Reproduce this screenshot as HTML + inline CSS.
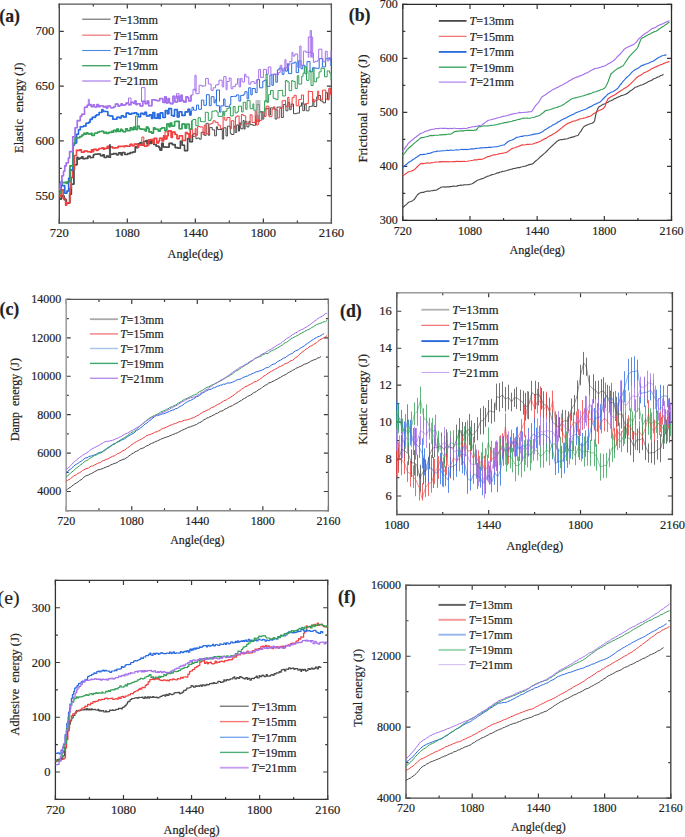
<!DOCTYPE html>
<html><head><meta charset="utf-8"><style>
html,body{margin:0;padding:0;background:#fff;overflow:hidden;}
svg{display:block;font-family:"Liberation Serif", serif;}
text{stroke:#222;stroke-width:0.18px;}
</style></head><body>
<svg width="685" height="837" viewBox="0 0 685 837" fill="#222">
<path d="M59.30 223.00v-4.5M59.30 4.10v4.5M127.32 223.00v-4.5M127.32 4.10v4.5M195.35 223.00v-4.5M195.35 4.10v4.5M263.38 223.00v-4.5M263.38 4.10v4.5M331.40 223.00v-4.5M331.40 4.10v4.5M93.31 223.00v-2.5M93.31 4.10v2.5M161.34 223.00v-2.5M161.34 4.10v2.5M229.36 223.00v-2.5M229.36 4.10v2.5M297.39 223.00v-2.5M297.39 4.10v2.5M59.30 195.64h4.5M331.40 195.64h-4.5M59.30 140.91h4.5M331.40 140.91h-4.5M59.30 86.19h4.5M331.40 86.19h-4.5M59.30 31.46h4.5M331.40 31.46h-4.5M59.30 168.28h2.5M331.40 168.28h-2.5M59.30 113.55h2.5M331.40 113.55h-2.5M59.30 58.82h2.5M331.40 58.82h-2.5" stroke="#3a3a3a" stroke-width="1.2" fill="none"/>
<path d="M58.60 4.10H332.05" stroke="#555" stroke-width="1.3"/>
<path d="M58.60 223.00H332.05" stroke="#666" stroke-width="1.4"/>
<path d="M59.30 3.45V223.70" stroke="#4a4a4a" stroke-width="1.4"/>
<path d="M331.40 3.45V223.70" stroke="#555" stroke-width="1.3"/>
<text x="59.30" y="237.20" text-anchor="middle" font-size="12.6">720</text>
<text x="127.32" y="237.20" text-anchor="middle" font-size="12.6">1080</text>
<text x="195.35" y="237.20" text-anchor="middle" font-size="12.6">1440</text>
<text x="263.38" y="237.20" text-anchor="middle" font-size="12.6">1800</text>
<text x="331.40" y="237.20" text-anchor="middle" font-size="12.6">2160</text>
<text x="54.30" y="199.64" text-anchor="end" font-size="12.6">550</text>
<text x="54.30" y="144.91" text-anchor="end" font-size="12.6">600</text>
<text x="54.30" y="90.19" text-anchor="end" font-size="12.6">650</text>
<text x="54.30" y="35.46" text-anchor="end" font-size="12.6">700</text>
<text x="195.35" y="257.80" text-anchor="middle" font-size="12.2">Angle(deg)</text>
<text transform="translate(23.30 107.70) rotate(-90)" text-anchor="middle" font-size="12.5" xml:space="preserve">Elastic  energy (J)</text>
<text x="-0.70" y="21.70" font-size="17.8" font-weight="bold">(a)</text>
<path d="M402.80 220.40v-4.5M402.80 4.40v4.5M469.98 220.40v-4.5M469.98 4.40v4.5M537.15 220.40v-4.5M537.15 4.40v4.5M604.33 220.40v-4.5M604.33 4.40v4.5M671.50 220.40v-4.5M671.50 4.40v4.5M436.39 220.40v-2.5M436.39 4.40v2.5M503.56 220.40v-2.5M503.56 4.40v2.5M570.74 220.40v-2.5M570.74 4.40v2.5M637.91 220.40v-2.5M637.91 4.40v2.5M402.80 220.40h4.5M671.50 220.40h-4.5M402.80 166.40h4.5M671.50 166.40h-4.5M402.80 112.40h4.5M671.50 112.40h-4.5M402.80 58.40h4.5M671.50 58.40h-4.5M402.80 4.40h4.5M671.50 4.40h-4.5M402.80 193.40h2.5M671.50 193.40h-2.5M402.80 139.40h2.5M671.50 139.40h-2.5M402.80 85.40h2.5M671.50 85.40h-2.5M402.80 31.40h2.5M671.50 31.40h-2.5" stroke="#3a3a3a" stroke-width="1.2" fill="none"/>
<path d="M402.15 4.40H672.15" stroke="#2a2a2a" stroke-width="1.2"/>
<path d="M402.15 220.40H672.15" stroke="#2a2a2a" stroke-width="1.3"/>
<path d="M402.80 3.80V221.05" stroke="#333" stroke-width="1.3"/>
<path d="M671.50 3.80V221.05" stroke="#2a2a2a" stroke-width="1.3"/>
<text x="402.80" y="234.60" text-anchor="middle" font-size="12.0">720</text>
<text x="469.98" y="234.60" text-anchor="middle" font-size="12.0">1080</text>
<text x="537.15" y="234.60" text-anchor="middle" font-size="12.0">1440</text>
<text x="604.33" y="234.60" text-anchor="middle" font-size="12.0">1800</text>
<text x="671.50" y="234.60" text-anchor="middle" font-size="12.0">2160</text>
<text x="397.80" y="224.40" text-anchor="end" font-size="12.0">300</text>
<text x="397.80" y="170.40" text-anchor="end" font-size="12.0">400</text>
<text x="397.80" y="116.40" text-anchor="end" font-size="12.0">500</text>
<text x="397.80" y="62.40" text-anchor="end" font-size="12.0">600</text>
<text x="397.80" y="8.40" text-anchor="end" font-size="12.0">700</text>
<text x="537.15" y="254.20" text-anchor="middle" font-size="12.2">Angle(deg)</text>
<text transform="translate(366.80 108.50) rotate(-90)" text-anchor="middle" font-size="12.9" xml:space="preserve">Frictional  energy (J)</text>
<text x="348.80" y="21.20" font-size="17.8" font-weight="bold">(b)</text>
<path d="M66.20 510.70v-4.5M66.20 299.40v4.5M131.75 510.70v-4.5M131.75 299.40v4.5M197.30 510.70v-4.5M197.30 299.40v4.5M262.85 510.70v-4.5M262.85 299.40v4.5M328.40 510.70v-4.5M328.40 299.40v4.5M98.97 510.70v-2.5M98.97 299.40v2.5M164.52 510.70v-2.5M164.52 299.40v2.5M230.07 510.70v-2.5M230.07 299.40v2.5M295.62 510.70v-2.5M295.62 299.40v2.5M66.20 491.49h4.5M328.40 491.49h-4.5M66.20 453.07h4.5M328.40 453.07h-4.5M66.20 414.65h4.5M328.40 414.65h-4.5M66.20 376.24h4.5M328.40 376.24h-4.5M66.20 337.82h4.5M328.40 337.82h-4.5M66.20 299.40h4.5M328.40 299.40h-4.5M66.20 510.70h2.5M328.40 510.70h-2.5M66.20 472.28h2.5M328.40 472.28h-2.5M66.20 433.86h2.5M328.40 433.86h-2.5M66.20 395.45h2.5M328.40 395.45h-2.5M66.20 357.03h2.5M328.40 357.03h-2.5M66.20 318.61h2.5M328.40 318.61h-2.5" stroke="#3a3a3a" stroke-width="1.2" fill="none"/>
<path d="M65.40 299.40H329.05" stroke="#555" stroke-width="1.3"/>
<path d="M65.40 510.70H329.05" stroke="#888" stroke-width="1.4"/>
<path d="M66.20 298.75V511.40" stroke="#a0a0a0" stroke-width="1.6"/>
<path d="M328.40 298.75V511.40" stroke="#777" stroke-width="1.3"/>
<text x="66.20" y="524.90" text-anchor="middle" font-size="12.0">720</text>
<text x="131.75" y="524.90" text-anchor="middle" font-size="12.0">1080</text>
<text x="197.30" y="524.90" text-anchor="middle" font-size="12.0">1440</text>
<text x="262.85" y="524.90" text-anchor="middle" font-size="12.0">1800</text>
<text x="328.40" y="524.90" text-anchor="middle" font-size="12.0">2160</text>
<text x="61.20" y="495.49" text-anchor="end" font-size="12.0">4000</text>
<text x="61.20" y="457.07" text-anchor="end" font-size="12.0">6000</text>
<text x="61.20" y="418.65" text-anchor="end" font-size="12.0">8000</text>
<text x="61.20" y="380.24" text-anchor="end" font-size="12.0">10000</text>
<text x="61.20" y="341.82" text-anchor="end" font-size="12.0">12000</text>
<text x="61.20" y="303.40" text-anchor="end" font-size="12.0">14000</text>
<text x="197.30" y="544.00" text-anchor="middle" font-size="11.9">Angle(deg)</text>
<text transform="translate(18.60 399.60) rotate(-90)" text-anchor="middle" font-size="11.95" xml:space="preserve">Damp  energy (J)</text>
<text x="-0.50" y="315.20" font-size="17.8" font-weight="bold">(c)</text>
<path d="M396.80 514.50v-4.5M396.80 292.80v4.5M488.67 514.50v-4.5M488.67 292.80v4.5M580.53 514.50v-4.5M580.53 292.80v4.5M672.40 514.50v-4.5M672.40 292.80v4.5M442.73 514.50v-2.5M442.73 292.80v2.5M534.60 514.50v-2.5M534.60 292.80v2.5M626.47 514.50v-2.5M626.47 292.80v2.5M396.80 496.02h4.5M672.40 496.02h-4.5M396.80 459.07h4.5M672.40 459.07h-4.5M396.80 422.12h4.5M672.40 422.12h-4.5M396.80 385.18h4.5M672.40 385.18h-4.5M396.80 348.23h4.5M672.40 348.23h-4.5M396.80 311.27h4.5M672.40 311.27h-4.5M396.80 514.50h2.5M672.40 514.50h-2.5M396.80 477.55h2.5M672.40 477.55h-2.5M396.80 440.60h2.5M672.40 440.60h-2.5M396.80 403.65h2.5M672.40 403.65h-2.5M396.80 366.70h2.5M672.40 366.70h-2.5M396.80 329.75h2.5M672.40 329.75h-2.5M396.80 292.80h2.5M672.40 292.80h-2.5" stroke="#3a3a3a" stroke-width="1.2" fill="none"/>
<path d="M396.00 292.80H673.10" stroke="#999" stroke-width="1.5"/>
<path d="M396.00 514.50H673.10" stroke="#555" stroke-width="1.4"/>
<path d="M396.80 292.05V515.20" stroke="#666" stroke-width="1.6"/>
<path d="M672.40 292.05V515.20" stroke="#444" stroke-width="1.4"/>
<text x="396.80" y="528.70" text-anchor="middle" font-size="12.5">1080</text>
<text x="488.67" y="528.70" text-anchor="middle" font-size="12.5">1440</text>
<text x="580.53" y="528.70" text-anchor="middle" font-size="12.5">1800</text>
<text x="672.40" y="528.70" text-anchor="middle" font-size="12.5">2160</text>
<text x="391.80" y="500.02" text-anchor="end" font-size="12.5">6</text>
<text x="391.80" y="463.07" text-anchor="end" font-size="12.5">8</text>
<text x="391.80" y="426.12" text-anchor="end" font-size="12.5">10</text>
<text x="391.80" y="389.18" text-anchor="end" font-size="12.5">12</text>
<text x="391.80" y="352.23" text-anchor="end" font-size="12.5">14</text>
<text x="391.80" y="315.27" text-anchor="end" font-size="12.5">16</text>
<text x="534.60" y="549.70" text-anchor="middle" font-size="12.5">Angle(deg)</text>
<text transform="translate(366.80 399.30) rotate(-90)" text-anchor="middle" font-size="12.6" xml:space="preserve">Kinetic energy (J)</text>
<text x="340.00" y="316.80" font-size="17.8" font-weight="bold">(d)</text>
<path d="M55.40 799.40v-4.5M55.40 580.40v4.5M123.47 799.40v-4.5M123.47 580.40v4.5M191.55 799.40v-4.5M191.55 580.40v4.5M259.62 799.40v-4.5M259.62 580.40v4.5M327.70 799.40v-4.5M327.70 580.40v4.5M89.44 799.40v-2.5M89.44 580.40v2.5M157.51 799.40v-2.5M157.51 580.40v2.5M225.59 799.40v-2.5M225.59 580.40v2.5M293.66 799.40v-2.5M293.66 580.40v2.5M55.40 772.02h4.5M327.70 772.02h-4.5M55.40 717.27h4.5M327.70 717.27h-4.5M55.40 662.52h4.5M327.70 662.52h-4.5M55.40 607.77h4.5M327.70 607.77h-4.5M55.40 799.40h2.5M327.70 799.40h-2.5M55.40 744.65h2.5M327.70 744.65h-2.5M55.40 689.90h2.5M327.70 689.90h-2.5M55.40 635.15h2.5M327.70 635.15h-2.5M55.40 580.40h2.5M327.70 580.40h-2.5" stroke="#3a3a3a" stroke-width="1.2" fill="none"/>
<path d="M54.75 580.40H328.35" stroke="#3a3a3a" stroke-width="1.3"/>
<path d="M54.75 799.40H328.35" stroke="#333" stroke-width="1.3"/>
<path d="M55.40 579.75V800.05" stroke="#333" stroke-width="1.3"/>
<path d="M327.70 579.75V800.05" stroke="#444" stroke-width="1.3"/>
<text x="55.40" y="813.60" text-anchor="middle" font-size="12.5">720</text>
<text x="123.47" y="813.60" text-anchor="middle" font-size="12.5">1080</text>
<text x="191.55" y="813.60" text-anchor="middle" font-size="12.5">1440</text>
<text x="259.62" y="813.60" text-anchor="middle" font-size="12.5">1800</text>
<text x="327.70" y="813.60" text-anchor="middle" font-size="12.5">2160</text>
<text x="50.40" y="776.02" text-anchor="end" font-size="12.5">0</text>
<text x="50.40" y="721.27" text-anchor="end" font-size="12.5">100</text>
<text x="50.40" y="666.52" text-anchor="end" font-size="12.5">200</text>
<text x="50.40" y="611.77" text-anchor="end" font-size="12.5">300</text>
<text x="191.55" y="833.70" text-anchor="middle" font-size="12.3">Angle(deg)</text>
<text transform="translate(19.00 684.30) rotate(-90)" text-anchor="middle" font-size="12.37" xml:space="preserve">Adhesive  energy (J)</text>
<text x="-2.40" y="603.50" font-size="19.8" font-weight="normal">(e)</text>
<path d="M406.00 798.10v-4.5M406.00 585.30v4.5M472.20 798.10v-4.5M472.20 585.30v4.5M538.40 798.10v-4.5M538.40 585.30v4.5M604.60 798.10v-4.5M604.60 585.30v4.5M670.80 798.10v-4.5M670.80 585.30v4.5M439.10 798.10v-2.5M439.10 585.30v2.5M505.30 798.10v-2.5M505.30 585.30v2.5M571.50 798.10v-2.5M571.50 585.30v2.5M637.70 798.10v-2.5M637.70 585.30v2.5M406.00 798.10h4.5M670.80 798.10h-4.5M406.00 727.17h4.5M670.80 727.17h-4.5M406.00 656.23h4.5M670.80 656.23h-4.5M406.00 585.30h4.5M670.80 585.30h-4.5M406.00 762.63h2.5M670.80 762.63h-2.5M406.00 691.70h2.5M670.80 691.70h-2.5M406.00 620.77h2.5M670.80 620.77h-2.5" stroke="#3a3a3a" stroke-width="1.2" fill="none"/>
<path d="M405.25 585.30H671.50" stroke="#555" stroke-width="1.4"/>
<path d="M405.25 798.10H671.50" stroke="#444" stroke-width="1.4"/>
<path d="M406.00 584.60V798.80" stroke="#666" stroke-width="1.5"/>
<path d="M670.80 584.60V798.80" stroke="#444" stroke-width="1.4"/>
<text x="406.00" y="812.30" text-anchor="middle" font-size="12.0">720</text>
<text x="472.20" y="812.30" text-anchor="middle" font-size="12.0">1080</text>
<text x="538.40" y="812.30" text-anchor="middle" font-size="12.0">1440</text>
<text x="604.60" y="812.30" text-anchor="middle" font-size="12.0">1800</text>
<text x="670.80" y="812.30" text-anchor="middle" font-size="12.0">2160</text>
<text x="401.00" y="802.10" text-anchor="end" font-size="12.0">4000</text>
<text x="401.00" y="731.17" text-anchor="end" font-size="12.0">8000</text>
<text x="401.00" y="660.23" text-anchor="end" font-size="12.0">12000</text>
<text x="401.00" y="589.30" text-anchor="end" font-size="12.0">16000</text>
<text x="538.40" y="831.20" text-anchor="middle" font-size="12.0">Angle(deg)</text>
<text transform="translate(361.60 688.00) rotate(-90)" text-anchor="middle" font-size="12.4" xml:space="preserve">Total energy (J)</text>
<text x="338.00" y="602.90" font-size="17.8" font-weight="bold">(f)</text>
<path d="M59.2 199.1H61.4V196.1H64.2V199.8H66.4V203.1H69.6V194.2H71.4V184.2H73.9V164.8H77.1V157.2H78V159H79.8V158.1H81.7V156.7H82.9V158.7H85V158.4H87.9V156.2H90.2V157.6H91.5V157.5H93.4V154.8H94.7V154.3H97.1V154H98.8V154H100.5V155.8H102.8V154.8H104.2V157.5H106.5V156H108.4V157.2H110.4V154.3H112.3V154.3H113.3V153.6H116.5V154.8H118.6V152.9H121.1V154.9H122.4V152.5H124.8V154.5H127.6V153.6H130.2V152.6H132.9V152H135.3V146.7H136.7V147.7H138.1V143.8H140.1V142.6H141.9V145.1H143.7V141.5H146V140.5H147.1V143.9H148.6V140.1H150.1V143.5H151.7V140.6H153.7V144.5H156.2V146.2H159V147.8H160V150.1H161.7V143.3H163.2V147H166V147.2H169.1V143.4H172.3V144.6H175.2V147.6H177.9V148.2H180.4V141.2H182.2V145.2H184.5V150.6H187.6V138.6H189.8V141.7H192.4V134.7H193.7V133.5H195.9V138.7H197.2V138H199.4V139.2H201.2V132.3H204.3V135.4H206.1V123.3H208.3V135.3H209.6V127.6H212.3V129.9H214.6V135.8H216.4V126.8H217.6V129.6H220V129.5H222.3V139.1H223.6V127.8H226V136H227.4V126.2H230.3V133.4H231.3V134.5H233.9V126.2H235.2V132.5H236.7V124.9H238.5V131.1H239.5V122.8H240.7V128.8H243.1V120.5H244.2V129.1H245.1V121.4H246.9V126.9H248.9V121.4H250.1V124.7H252.9V125.3H255.6V115.3H257.9V122H259.3V111.7H262.2V119.1H263.8V115.6H264.8V108.9H267.6V108.2H268.9V115.1H270.4V107.9H272.7V108.2H275.1V119H277V107.1H278.8V107.1H281.4V117.5H283.3V104.5H285.9V110.8H287.9V102.6H289.7V109.7H291.2V104H293.5V113.7H296.6V113.1H299.5V106.1H301.5V102.8H302.8V110.7H304.5V104H306.2V110.8H309V106.6H310.9V106.2H312.8V99.1H313.9V106.5H316.7V96.9H317.8V95.5H320.6V101H323V102.8H325.5V92.7H327.5V99.8H329V88.4" stroke="#4a4a4a" stroke-width="1.0" fill="none" stroke-opacity="1.0" stroke-linejoin="round"/>
<path d="M59.2 196.2H61.2V189.9H63.2V198.5H65.6V205.1H66.7V202.9H69.9V188.2H71.2V177.6H72.5V169.2H74.5V155.5H76.5V150.4H79.8V149.7H81.4V152.2H84.1V151H87.3V151.7H90.3V152.3H91.4V149.8H92.5V151.6H93.6V149.4H96.4V150.4H97.7V149.7H98.9V148.5H102.1V147.8H103.5V149.3H104.6V148.4H107.3V146.3H108.4V148.2H110.2V146.8H112.5V148H115.5V147.8H118.1V146.4H121.1V146.5H122.1V146.3H123.6V146.6H124.9V145.8H127.1V146.3H130.1V144.4H132.1V145.7H134.3V144.1H137.5V147.1H138.7V145H141.3V145H143.3V143.6H144.4V146.2H147V145.4H148.7V140.2H150.6V139.5H153V143.2H154.1V138.4H156.7V142.9H158.6V141.1H159.6V138.2H162.1V141H163.6V135.8H165V139H166.9V135.7H168.3V130.9H171.2V137.5H172.4V132.1H175V134.5H177V138.7H179.3V135.8H182.5V140.5H185.5V132.5H187.1V133.7H189.1V137.8H190.3V129.4H192.7V136.5H195.2V128.3H196.1V135.3H197.6V126.6H200V127H203V134.6H204.2V125.1H206V133.8H209.1V124H211.7V123.1H213.1V120.8H215.2V122.3H218.1V125.2H220.3V128.4H223.1V117.1H224.8V120.2H226.9V117.5H230V128.8H231.4V120.7H233.8V127.9H235.4V117H236.8V116H239.1V124.9H241.4V114.5H243.2V115.7H245.7V123.6H248.9V122.6H250.1V114.8H252.1V122.6H255.2V111.2H256.5V125H258.3V116.7H259.4V120.4H261.6V112.5H263.7V116.4H266.1V106.2H269V116.7H272V109.2H273.4V106.8H274.9V110H277.7V117.9H279.6V108.5H282.1V100.8H284.2V100.4H285.5V106.7H287.7V97.3H289V106.8H292.1V97.6H294.1V95.3H296.2V105.8H298.7V99.5H301.4V95H303.5V104.3H306V103.6H308.3V91H309.8V91.5H312.6V101.8H315.1V100.2H317.7V91.1H318.7V99.6H320.1V99.8H322.6V90.1H325.8V99.2H329V88.1H330.5V94.7H331V89.5" stroke="#f04040" stroke-width="1.0" fill="none" stroke-opacity="1.0" stroke-linejoin="round"/>
<path d="M59.2 190.5H61.2V181.5H62.1V185.6H64.7V193.3H65.9V193.2H66.9V191H68.6V178.2H69.7V170H72.9V145.5H74.1V143H76.6V134.2H78.5V129.7H80.3V126.7H83.4V126H86V123.2H87.7V123.3H88.7V122.2H90.1V119.4H91.2V119.4H92.2V117.3H93.2V117.4H95.3V115.9H96.5V114.8H99.2V112.5H101.9V109.6H102.9V111.4H105V111.5H107.8V115.5H109.8V116H112.8V119.2H114.4V119.2H116.9V117.2H119.4V117.9H121.3V115.9H123.5V117H126.2V113.1H128.9V114.1H131.6V113.4H134.6V112.8H136.7V114.1H138.5V116.8H140.6V113.4H143.2V114.5H144.8V112.3H146.5V115.9H149.5V114.8H151.5V118.4H152.9V112.5H154.7V117.9H156.1V118.2H157.4V114.1H158.9V118.4H160.3V112.9H162.8V117.5H165.3V110.5H167.3V113.8H168.8V108.6H171.5V115.5H173.4V116.2H174.5V109.6H177.3V117H179.1V111.7H181.9V115.4H185.1V111.9H188V109.2H189.7V115H191V111.1H192V107.3H193.6V110.2H196.5V105.1H198.6V109.3H201.4V100.1H203.8V105.3H206.4V94.7H209.3V105.7H211.2V96.7H214V102.9H215.1V99.9H216.3V105.7H219.5V112.1H220.9V105.9H223.6V99H225V106.3H228.2V106.6H229.8V104.5H230.8V96.5H233.6V96.3H236.5V94.9H238.9V101.1H240.7V95.4H243.8V94.1H244.9V91.7H247.1V98.9H248.7V87.8H250.8V94.9H252.2V88.5H255.3V92.6H257.1V79.5H259.6V87.8H262.8V81.1H264.4V80.2H266.8V86.4H269.9V75H271.9V85.3H273.4V74.5H275.8V82.2H277.4V69.8H279.2V68H282.1V74.3H284V67.9H285.6V71.2H287.4V63.7H288.6V73.6H291.7V63.1H294.7V62.1H296.2V72.6H298.6V60.8H301V68.8H302.7V65.3H304.9V73.7H307V61.6H310V71.8H312.4V67.8H315.2V68.2H317.7V68.3H319.2V58.6H322.4V66.9H325.6V58.7H328.5V57.9H330.9V65.2H331V66.1" stroke="#2a6ce0" stroke-width="1.0" fill="none" stroke-opacity="1.0" stroke-linejoin="round"/>
<path d="M59.2 193.3H60.7V184.4H62V182.6H64.7V182.4H66.2V183.4H67.2V181.8H70V165.9H73.1V143.9H75.1V137.9H76.9V137.7H79.7V136.6H81.9V135H83.8V133.4H85.3V134.1H86.5V132.8H87.9V133.9H91V133.2H92V135.4H94.4V133.2H97.4V132.2H99.2V131.5H101.5V131.4H103.7V133H105.4V132.2H106.6V133.4H108.8V132.3H110.5V132.5H111.7V131.2H112.8V132.2H113.7V130.3H115.8V131.6H116.8V129H118.3V131.4H120.6V129.4H121.9V130.4H123V131.8H125.7V128.8H127.4V130.6H130.3V127.9H132V129.7H133.7V127.1H134.7V129.3H136.4V129.6H137.3V126.2H139.3V128.8H140.7V129.1H142.8V129.4H145.2V131H146.4V127H148V128.4H149V131.9H151.6V133.1H153.5V127.9H155V129.2H158.3V131.1H160.2V128.8H161.9V127.7H164.8V130.6H166.8V124.1H169V126.7H170.3V123H171.7V126H174.6V121.5H176V121.4H179.2V128.7H182V124.1H185.1V128.2H186.6V124.2H189.3V129H191.8V120.7H192.9V119.5H195.8V125.8H198.1V117.7H200.4V121.5H202.5V121.8H205.3V112.3H208.3V120.6H210.8V118.8H211.9V111.2H214.6V110.8H216.9V112.1H218.1V116.5H219.5V116.4H222.7V111.3H223.7V115.5H224.7V111.3H226.9V108.3H229.4V107.1H230.4V115.9H233.2V106.5H235.1V112.9H237.3V111.7H238.4V106.2H241.5V111.9H243.2V102.4H245.7V109.3H247.1V100.5H250.1V108.7H252.9V103.9H253.8V110.2H256.9V104.6H259.5V112.2H261.9V111.8H264.6V100.8H266.9V102.3H268.6V94.6H270.5V90.5H273.2V98.4H275.8V99.6H278V90.5H280.1V90.4H282.7V96H285.4V80.5H287.2V81.8H289.1V90.7H291.7V80.5H292.9V81.4H295.2V88.6H297.3V75.7H298.8V84.1H301.7V76.3H303.1V73H304.3V66.8H306.5V80.3H309V70.8H311V85.5H313.1V68H314.1V81.8H316.6V77.9H319V71.9H321.1V67.9H322.2V68.4H324.5V76.8H327.2V70.9H329.6V73.1H331V80.2" stroke="#34a058" stroke-width="1.0" fill="none" stroke-opacity="1.0" stroke-linejoin="round"/>
<path d="M59.2 189H60.3V183.9H61.9V175.8H63.5V171.2H64.7V165.9H66.2V162.8H68.4V158H69.6V151.6H72.7V136.7H75.1V127.7H77.3V120.6H80.3V116.3H81.7V114.3H84.5V107.2H87.2V105.2H89.2V104.6H91.2V106.6H93.2V104.7H94.3V106.8H95.2V107H96.9V104.6H98.5V106.8H100V105.7H103.2V107H105V106.3H106.3V108.1H107.8V106H110.5V107.8H113.6V106.8H115.4V104.1H118.1V106.2H119.6V105.5H121.1V103.9H122.3V105.2H124.1V104.8H126V103.1H128.6V104.8H131V102.3H133.4V103.5H135V100.9H136V104.6H137.1V103.7H140.1V106H142.8V101.2H145.1V103.6H147.2V101.1H148.7V105.7H151.9V99.7H154.9V100.2H156.6V100.6H159.7V98.5H161.9V98.6H162.9V102.5H164.8V96.8H166.2V102.9H168V98.5H169.4V102.7H170.6V103.8H173V96.2H174.9V102H177.5V96.3H179.3V101.3H181V95.2H182.3V100.6H183.8V102.2H186V96.7H187.7V97.7H188.7V100.9H191V95H193V89.3H195.9V93.7H199.1V85.3H202.1V86.4H203.3V85.9H205.6V78.4H208.3V84H211.1V90.4H213.2V87.7H214.5V87.9H215.5V85.1H217V84.6H219V80.2H222.2V86.9H223.7V76.7H226.1V89.7H227.1V81.5H229.2V78H231.1V88.8H232.8V86.6H235.4V84.2H237.5V78.7H239.1V86.9H240.6V78.4H242.1V82H244.5V74.3H245.9V77H248.8V84.2H250.8V81.9H251.8V81.7H254.2V83.3H256.3V79.9H258.7V69.4H260.6V77.4H263.4V69.4H266.5V74.3H268.3V67H270.9V74.3H273.6V74H276.7V75H278.4V72.6H280.2V65.3H281.8V70.6H284.9V59.7H286V67.8H288.2V64.9H289.8V61.4H291.9V52.5H293V56.1H294.9V54H297.7V67.4H299.8V46.1H301V65.2H303.4V51.1H306V52.4H307.4V52H309.3V52.5H311.4V53.1H313.4V62.3H314.8V61.3H317.8V60.1H318.7V49.2H321.9V58.4H323V61.8H325.3V51.3H327.2V61H328.9V58.3H331V50.1" stroke="#a570ec" stroke-width="1.0" fill="none" stroke-opacity="1.0" stroke-linejoin="round"/>
<path d="M59.2 199.1H61.4V196.1H64.2V199.8H66.4V203.1H69.6V194.2H71.4V184.2H73.9V164.8H77.1V157.2H78V159H79.8V158.1H81.7V156.7H82.9V158.7H85V158.4H87.9V156.2H90.2V157.6H91.5V157.5H93.4V154.8H94.7V154.3H97.1V154H98.8V154H100.5V155.8H102.8V154.8H104.2V157.5H106.5V156H108.4V157.2H110.4V154.3H112.3V154.3H113.3V153.6H116.5V154.8H118.6V152.9H121.1V154.9H122.4V152.5H124.8V154.5H127.6V153.6H130.2V152.6H132.9V152H135.3V146.7H136.7V147.7H138.1V143.8H140.1V142.6H141.9V145.1H143.7V141.5H146V140.5H147.1V143.9H148.6V140.1H150.1V143.5H151.7V140.6H153.7V144.5H156.2V146.2H159V147.8H160V150.1H161.7V143.3H163.2V147H166V147.2H169.1V143.4H172.3V144.6H175.2V147.6H177.9V148.2H180.4V141.2H182.2V145.2H184.5V150.6H187.6V138.6H189.8V141.7H192.4V134.7" stroke="#4a4a4a" stroke-width="1.6" fill="none" stroke-opacity="1.0" stroke-linejoin="round"/>
<path d="M59.2 196.2H61.2V189.9H63.2V198.5H65.6V205.1H66.7V202.9H69.9V188.2H71.2V177.6H72.5V169.2H74.5V155.5H76.5V150.4H79.8V149.7H81.4V152.2H84.1V151H87.3V151.7H90.3V152.3H91.4V149.8H92.5V151.6H93.6V149.4H96.4V150.4H97.7V149.7H98.9V148.5H102.1V147.8H103.5V149.3H104.6V148.4H107.3V146.3H108.4V148.2H110.2V146.8H112.5V148H115.5V147.8H118.1V146.4H121.1V146.5H122.1V146.3H123.6V146.6H124.9V145.8H127.1V146.3H130.1V144.4H132.1V145.7H134.3V144.1H137.5V147.1H138.7V145H141.3V145H143.3V143.6H144.4V146.2H147V145.4H148.7V140.2H150.6V139.5H153V143.2H154.1V138.4H156.7V142.9H158.6V141.1H159.6V138.2H162.1V141H163.6V135.8H165V139H166.9V135.7H168.3V130.9H171.2V137.5H172.4V132.1H175V134.5H177V138.7H179.3V135.8H182.5V140.5H185.5V132.5H187.1V133.7H189.1V137.8H190.3V129.4" stroke="#f04040" stroke-width="1.6" fill="none" stroke-opacity="1.0" stroke-linejoin="round"/>
<path d="M59.2 190.5H61.2V181.5H62.1V185.6H64.7V193.3H65.9V193.2H66.9V191H68.6V178.2H69.7V170H72.9V145.5H74.1V143H76.6V134.2H78.5V129.7H80.3V126.7H83.4V126H86V123.2H87.7V123.3H88.7V122.2H90.1V119.4H91.2V119.4H92.2V117.3H93.2V117.4H95.3V115.9H96.5V114.8H99.2V112.5H101.9V109.6H102.9V111.4H105V111.5H107.8V115.5H109.8V116H112.8V119.2H114.4V119.2H116.9V117.2H119.4V117.9H121.3V115.9H123.5V117H126.2V113.1H128.9V114.1H131.6V113.4H134.6V112.8H136.7V114.1H138.5V116.8H140.6V113.4H143.2V114.5H144.8V112.3H146.5V115.9H149.5V114.8H151.5V118.4H152.9V112.5H154.7V117.9H156.1V118.2H157.4V114.1H158.9V118.4H160.3V112.9H162.8V117.5H165.3V110.5H167.3V113.8H168.8V108.6H171.5V115.5H173.4V116.2H174.5V109.6H177.3V117H179.1V111.7H181.9V115.4H185.1V111.9H188V109.2H189.7V115H191V111.1" stroke="#2a6ce0" stroke-width="1.6" fill="none" stroke-opacity="1.0" stroke-linejoin="round"/>
<path d="M59.2 193.3H60.7V184.4H62V182.6H64.7V182.4H66.2V183.4H67.2V181.8H70V165.9H73.1V143.9H75.1V137.9H76.9V137.7H79.7V136.6H81.9V135H83.8V133.4H85.3V134.1H86.5V132.8H87.9V133.9H91V133.2H92V135.4H94.4V133.2H97.4V132.2H99.2V131.5H101.5V131.4H103.7V133H105.4V132.2H106.6V133.4H108.8V132.3H110.5V132.5H111.7V131.2H112.8V132.2H113.7V130.3H115.8V131.6H116.8V129H118.3V131.4H120.6V129.4H121.9V130.4H123V131.8H125.7V128.8H127.4V130.6H130.3V127.9H132V129.7H133.7V127.1H134.7V129.3H136.4V129.6H137.3V126.2H139.3V128.8H140.7V129.1H142.8V129.4H145.2V131H146.4V127H148V128.4H149V131.9H151.6V133.1H153.5V127.9H155V129.2H158.3V131.1H160.2V128.8H161.9V127.7H164.8V130.6H166.8V124.1H169V126.7H170.3V123H171.7V126H174.6V121.5H176V121.4H179.2V128.7H182V124.1H185.1V128.2H186.6V124.2H189.3V129H191.8V120.7" stroke="#34a058" stroke-width="1.6" fill="none" stroke-opacity="1.0" stroke-linejoin="round"/>
<path d="M59.2 189H60.3V183.9H61.9V175.8H63.5V171.2H64.7V165.9H66.2V162.8H68.4V158H69.6V151.6H72.7V136.7H75.1V127.7H77.3V120.6H80.3V116.3H81.7V114.3H84.5V107.2H87.2V105.2H89.2V104.6H91.2V106.6H93.2V104.7H94.3V106.8H95.2V107H96.9V104.6H98.5V106.8H100V105.7H103.2V107H105V106.3H106.3V108.1H107.8V106H110.5V107.8H113.6V106.8H115.4V104.1H118.1V106.2H119.6V105.5H121.1V103.9H122.3V105.2H124.1V104.8H126V103.1H128.6V104.8H131V102.3H133.4V103.5H135V100.9H136V104.6H137.1V103.7H140.1V106H142.8V101.2H145.1V103.6H147.2V101.1H148.7V105.7H151.9V99.7H154.9V100.2H156.6V100.6H159.7V98.5H161.9V98.6H162.9V102.5H164.8V96.8H166.2V102.9H168V98.5H169.4V102.7H170.6V103.8H173V96.2H174.9V102H177.5V96.3H179.3V101.3H181V95.2H182.3V100.6H183.8V102.2H186V96.7H187.7V97.7H188.7V100.9H191V95" stroke="#a570ec" stroke-width="1.6" fill="none" stroke-opacity="1.0" stroke-linejoin="round"/>
<rect x="255.5" y="100" width="5" height="19.2" fill="#999" fill-opacity="0.6"/>
<path d="M109.4 155.7V144.5H110.4V155.7" stroke="#4a4a4a" stroke-width="1.0" fill="none" stroke-opacity="1.0" stroke-linejoin="round"/>
<path d="M141.8 145.4V137H143.8V145.4M165 135.9V131.8H168V135.9" stroke="#f04040" stroke-width="1.0" fill="none" stroke-opacity="1.0" stroke-linejoin="round"/>
<path d="M216.5 101.6V90H219.5V101.6" stroke="#2a6ce0" stroke-width="1.0" fill="none" stroke-opacity="1.0" stroke-linejoin="round"/>
<path d="M135.5 128.5V116H137.3V128.5M266 102.3V74H267.2V102.3" stroke="#34a058" stroke-width="1.0" fill="none" stroke-opacity="1.0" stroke-linejoin="round"/>
<path d="M88.3 105V99.3H89.3V105M128.5 103.5V98H131V103.5M141.5 102V87.6H145V102M176.5 98.6V93.7H179V98.6M194.9 91.3V75.3H196.1V91.3M308.3 57.7V37H312.7V57.7M310.2 57.5V30.5H311.4V57.5" stroke="#a570ec" stroke-width="1.0" fill="none" stroke-opacity="1.0" stroke-linejoin="round"/>
<path d="M402.5 207.9 404 206.5 405.5 205.1 407 203.9 408.5 202.3 410 201.8 411.5 201.2 413 200.4 414.5 199.3 416 196.9 417.5 194.7 419 193.5 420.5 192.7 422 192.4 423.5 192.4 425 191.8 426.5 191.3 428 191.1 429.5 191.2 431 190.7 432.5 190.6 434 190.4 435.5 190.3 437 189.9 438.5 188.7 440 187.9 441.5 187 443 187 444.5 186.9 446 187.1 447.5 186.8 449 186.9 450.5 186.6 452 186.4 453.5 186.1 455 186.3 456.5 186.1 458 185.6 459.5 185.4 461 185.1 462.5 185.2 464 184.9 465.5 184.7 467 184.8 468.5 184.6 470 184.3 471.5 184 473 183.3 474.5 182.2 476 181.2 477.5 180.1 479 179.8 480.5 179.2 482 178.6 483.5 178.2 485 177.4 486.5 176.8 488 176.1 489.5 175.8 491 175.1 492.5 174.5 494 174.2 495.5 173.7 497 172.9 498.5 172.9 500 172 501.5 171.9 503 171.3 504.5 171.1 506 170.8 507.5 170.2 509 169.9 510.5 169.2 512 169.1 513.5 168.5 515 168.4 516.5 168 518 167.6 519.5 167.6 521 167 522.5 166.8 524 166.3 525.5 166.1 527 165.5 528.5 164.9 530 164.4 531.5 164.1 533 163.6 534.5 162 536 160.7 537.5 159.6 539 158.2 540.5 156.7 542 155.5 543.5 154.1 545 152.9 546.5 151.5 548 149.9 549.5 148.4 551 146.9 552.5 145.5 554 144.1 555.5 142.8 557 141.2 558.5 140.4 560 139.8 561.5 139.6 563 139.5 564.5 139.1 566 139 567.5 138.7 569 138 570.5 137.6 572 137.1 573.5 136.9 575 136.2 576.5 135.8 578 135.5 579.5 133 581 131.1 582.5 128.5 584 126.5 585.5 125.7 587 124.9 588.5 124.5 590 123.8 591.5 123.5 593 122.8 594.5 121.2 596 113.7 597.5 109.1 599 106.8 600.5 105.9 602 104.9 603.5 104.2 605 103.7 606.5 102.6 608 102.3 609.5 101.1 611 100.7 612.5 99.9 614 99 615.5 98.4 617 97.6 618.5 96.9 620 96.3 621.5 95.6 623 95.3 624.5 94.8 626 93.9 627.5 93.4 629 92 630.5 90.8 632 89.9 633.5 88.8 635 87.3 636.5 87 638 86.2 639.5 85.8 641 85 642.5 84.8 644 83.9 645.5 83.2 647 82.4 648.5 81.6 650 80.9 651.5 80.5 653 79.3 654.5 78.6 656 77.9 657.5 77.1 659 76.7 660.5 75.6 662 75.2 663.5 74.3" stroke="#4a4a4a" stroke-width="1.15" fill="none" stroke-opacity="1.0" stroke-linejoin="round"/>
<path d="M402.5 175.9 404 175.1 405.5 174 407 172.9 408.5 171.8 410 171.5 411.5 171 413 170.4 414.5 169.7 416 168.1 417.5 166.5 419 165.1 420.5 163.8 422 163.4 423.5 163.6 425 163.2 426.5 163.1 428 162.8 429.5 163.2 431 162.9 432.5 162.8 434 162.5 435.5 162 437 162 438.5 162 440 161.6 441.5 161.9 443 161.6 444.5 161.5 446 161.9 447.5 161.5 449 161.9 450.5 161.7 452 161.7 453.5 161.6 455 161.6 456.5 161.4 458 161.3 459.5 161.6 461 161.3 462.5 161.5 464 161.2 465.5 161.5 467 161.3 468.5 161 470 160.8 471.5 160.5 473 160.3 474.5 159.8 476 159.8 477.5 159.8 479 159.2 480.5 159.4 482 159.1 483.5 158.7 485 158 486.5 157.3 488 156.5 489.5 156.4 491 155.8 492.5 155.2 494 154.8 495.5 154.8 497 154.5 498.5 153.9 500 153.7 501.5 153.4 503 153.3 504.5 152.8 506 152.7 507.5 151.8 509 150.8 510.5 149.6 512 148.6 513.5 148 515 147.8 516.5 147 518 146.6 519.5 146 521 145.4 522.5 144.8 524 145 525.5 144.8 527 144.4 528.5 144.4 530 144.2 531.5 144.2 533 144 534.5 143.2 536 142.9 537.5 142.4 539 141.7 540.5 141.2 542 140.3 543.5 139.4 545 138.6 546.5 138.1 548 136.9 549.5 136 551 135.4 552.5 134.5 554 133.5 555.5 132.8 557 131.5 558.5 130.5 560 129.3 561.5 128.1 563 126.8 564.5 125.6 566 124.5 567.5 123.6 569 123 570.5 122.4 572 121.8 573.5 121.1 575 121 576.5 120.3 578 119.9 579.5 119 581 118.7 582.5 118.5 584 118.1 585.5 117.7 587 117.1 588.5 116.6 590 116.2 591.5 115.4 593 114.1 594.5 113.2 596 112.1 597.5 111.5 599 110.4 600.5 110 602 109.4 603.5 108.2 605 106.5 606.5 102 608 98.7 609.5 97.7 611 96.7 612.5 95.9 614 95.3 615.5 94.5 617 93.2 618.5 92.2 620 91.2 621.5 90.2 623 89.4 624.5 88.2 626 87.6 627.5 86.5 629 85.2 630.5 83.9 632 82.3 633.5 80.9 635 79.3 636.5 77.7 638 76.5 639.5 75.7 641 74.9 642.5 73.9 644 72.7 645.5 72.2 647 71.5 648.5 70.7 650 69.9 651.5 68.8 653 68.3 654.5 67.3 656 66.9 657.5 65.9 659 65.6 660.5 64.8 662 64.4 663.5 63.6 665 62.9 666.5 62.5 668 61.9 669.5 61.6" stroke="#f04040" stroke-width="1.15" fill="none" stroke-opacity="1.0" stroke-linejoin="round"/>
<path d="M402.5 168.1 404 166.4 405.5 165 407 164.1 408.5 162.4 410 161.4 411.5 160.7 413 159.5 414.5 158.8 416 157.4 417.5 156.8 419 155.5 420.5 154.6 422 154.6 423.5 154.3 425 154.3 426.5 154 428 153.4 429.5 153.5 431 152.9 432.5 152.3 434 151.8 435.5 151.7 437 151.1 438.5 151.2 440 151 441.5 151 443 150.7 444.5 150.7 446 150.5 447.5 150.2 449 150.5 450.5 150 452 150.2 453.5 150.2 455 150 456.5 149.7 458 150 459.5 149.8 461 149.5 462.5 149.4 464 149.6 465.5 149.3 467 149.6 468.5 149.2 470 149.1 471.5 148.9 473 148.8 474.5 148.8 476 148.4 477.5 148.2 479 148.2 480.5 147.9 482 147.9 483.5 147.8 485 147.6 486.5 147.6 488 147.5 489.5 147.1 491 147.5 492.5 147 494 147 495.5 146.7 497 146.6 498.5 146.3 500 145.8 501.5 145.5 503 145 504.5 144.9 506 143.2 507.5 142 509 141 510.5 140.5 512 140 513.5 139.4 515 138.5 516.5 137.2 518 137.1 519.5 136.8 521 136.3 522.5 136.4 524 135.8 525.5 135.7 527 135.7 528.5 135.5 530 135 531.5 134.9 533 134.4 534.5 134.1 536 133.9 537.5 133.8 539 133.4 540.5 132.8 542 131.9 543.5 130.9 545 129.7 546.5 129 548 128.1 549.5 127.1 551 126.4 552.5 125.1 554 124.5 555.5 123.7 557 122.7 558.5 121.7 560 121.1 561.5 120.1 563 119.3 564.5 118.4 566 118.1 567.5 117.1 569 116.2 570.5 115.5 572 114.8 573.5 114.4 575 113.3 576.5 112.6 578 111.9 579.5 111.5 581 110.7 582.5 110.2 584 109.7 585.5 109.2 587 108.5 588.5 107.5 590 106.9 591.5 106.4 593 105.2 594.5 104.5 596 103.9 597.5 103.1 599 102.5 600.5 101.7 602 100.1 603.5 98.5 605 97 606.5 95.6 608 94 609.5 93.2 611 92.2 612.5 91.8 614 90.9 615.5 89.9 617 89.1 618.5 87.3 620 85.2 621.5 83.5 623 81.4 624.5 79.9 626 78 627.5 76.8 629 75.4 630.5 73.9 632 72.1 633.5 70.9 635 69.7 636.5 68.9 638 68.2 639.5 67.3 641 65.9 642.5 65.4 644 64.9 645.5 64.1 647 63.8 648.5 63.2 650 62.4 651.5 61.7 653 61.3 654.5 60.3 656 59.2 657.5 58.3 659 57.3 660.5 56.7 662 55.7 663.5 55.5 665 55.1 666.5 54.9" stroke="#2a6ce0" stroke-width="1.15" fill="none" stroke-opacity="1.0" stroke-linejoin="round"/>
<path d="M402.5 155.8 404 154 405.5 152.1 407 149.8 408.5 148.3 410 147 411.5 145.8 413 144.3 414.5 143.1 416 141.9 417.5 140.5 419 139.4 420.5 137.9 422 137.6 423.5 137.5 425 137 426.5 136.7 428 136.4 429.5 135.8 431 135.4 432.5 135.6 434 135.4 435.5 135.3 437 135.2 438.5 135.2 440 134.8 441.5 134.9 443 134.6 444.5 134.6 446 134.6 447.5 134.3 449 134.1 450.5 134.2 452 133.5 453.5 132.2 455 131.4 456.5 131.4 458 131.1 459.5 131 461 130.9 462.5 131.1 464 130.6 465.5 130.5 467 130.4 468.5 130.3 470 130.3 471.5 130.4 473 130.5 474.5 130.1 476 130.1 477.5 128.5 479 126.5 480.5 126.6 482 126.3 483.5 126 485 125.8 486.5 126 488 125.9 489.5 125.8 491 125.4 492.5 125.3 494 125.2 495.5 124.7 497 124.6 498.5 123.9 500 124 501.5 123.2 503 123.1 504.5 122.5 506 122.6 507.5 122.1 509 121.9 510.5 121.5 512 121.2 513.5 120.6 515 120.5 516.5 120 518 119.5 519.5 119.4 521 118.7 522.5 118.3 524 118.1 525.5 118.2 527 118 528.5 118.3 530 118.2 531.5 117.7 533 117.5 534.5 117.2 536 116.5 537.5 116.1 539 115.7 540.5 114.7 542 113.5 543.5 112.5 545 111 546.5 110.4 548 110.2 549.5 109.7 551 109.3 552.5 108.7 554 108.1 555.5 107.8 557 107.4 558.5 106.8 560 106.2 561.5 105.7 563 104.8 564.5 103.9 566 102.8 567.5 101.7 569 100.8 570.5 99.4 572 98.7 573.5 98.2 575 97.9 576.5 97.7 578 97 579.5 97 581 96.2 582.5 96 584 95.6 585.5 95 587 94.6 588.5 94.1 590 93.6 591.5 93.2 593 92.4 594.5 92 596 91.7 597.5 90.9 599 90.7 600.5 89.8 602 89.5 603.5 88.7 605 87.7 606.5 85.2 608 82 609.5 77.7 611 73.8 612.5 72.7 614 71.3 615.5 70.1 617 68.9 618.5 68 620 67.6 621.5 66.5 623 66 624.5 63.8 626 61.3 627.5 59.2 629 56.9 630.5 55.4 632 53.7 633.5 52.2 635 50.7 636.5 49.2 638 46.8 639.5 42.8 641 39.1 642.5 37.8 644 37.2 645.5 36.3 647 35.5 648.5 34.6 650 33.9 651.5 33 653 32.4 654.5 31.6 656 31.2 657.5 30.3 659 29 660.5 28.2 662 27 663.5 26.2 665 25.1 666.5 24.2 668 22.9 669.5 22.1" stroke="#34a058" stroke-width="1.15" fill="none" stroke-opacity="1.0" stroke-linejoin="round"/>
<path d="M402.5 151.6 404 149.5 405.5 147.1 407 145.4 408.5 143 410 142 411.5 140.4 413 139.4 414.5 137.9 416 137 417.5 135.8 419 134.7 420.5 133.4 422 133 423.5 132.5 425 131.4 426.5 131 428 130.6 429.5 130 431 129.6 432.5 129.2 434 129.2 435.5 128.5 437 128.5 438.5 128.6 440 128.2 441.5 128.3 443 128.3 444.5 128.4 446 128.3 447.5 128.6 449 128.6 450.5 128.3 452 128.6 453.5 128.2 455 128.2 456.5 128.5 458 128.5 459.5 128.6 461 128.6 462.5 128.6 464 128.3 465.5 128.5 467 128.3 468.5 127.6 470 127.5 471.5 127 473 126.7 474.5 126.6 476 126.4 477.5 126.3 479 125.5 480.5 125.3 482 125 483.5 123.8 485 122.6 486.5 121.4 488 120.5 489.5 120 491 119.8 492.5 119.4 494 118.8 495.5 118.6 497 118 498.5 117.7 500 117.5 501.5 116.8 503 116.4 504.5 116.2 506 115.8 507.5 115.6 509 114.9 510.5 114.6 512 114.1 513.5 113.9 515 113.5 516.5 113.2 518 113 519.5 112.4 521 112.8 522.5 112.5 524 112.4 525.5 112.2 527 112.1 528.5 111.9 530 111.8 531.5 111.6 533 109.6 534.5 107.2 536 105.2 537.5 103.6 539 101.8 540.5 99.2 542 96.8 543.5 95.9 545 95 546.5 94 548 92.8 549.5 91.8 551 90.9 552.5 89.8 554 89.1 555.5 88.5 557 87.6 558.5 87 560 86.1 561.5 85.2 563 84.7 564.5 83.6 566 83 567.5 82.1 569 81.1 570.5 80.3 572 79.1 573.5 78.6 575 77.8 576.5 77.1 578 76.9 579.5 75.9 581 75.7 582.5 74.9 584 74.3 585.5 73.2 587 72.9 588.5 72.1 590 71 591.5 70.3 593 69.5 594.5 68.9 596 68.3 597.5 68.2 599 67.6 600.5 67.3 602 66.6 603.5 66.4 605 65.7 606.5 64.9 608 63.9 609.5 63.3 611 62.3 612.5 61.4 614 60.2 615.5 58.9 617 57.2 618.5 55.5 620 54.3 621.5 52.3 623 50.9 624.5 48.9 626 48.1 627.5 47.2 629 46.5 630.5 45.9 632 45.1 633.5 44.5 635 43.4 636.5 41.8 638 39.9 639.5 38.2 641 36.9 642.5 35.5 644 34.4 645.5 33.3 647 32.5 648.5 31.4 650 30.1 651.5 29 653 28.3 654.5 27.9 656 27.1 657.5 26.1 659 25.3 660.5 24.6 662 24.1 663.5 23.4 665 22.5 666.5 21.9 668 21.2 669.5 20.8" stroke="#a570ec" stroke-width="1.15" fill="none" stroke-opacity="1.0" stroke-linejoin="round"/>
<path d="M66 490.6 67.5 489.3 69 488 70.5 487.4 72 485.9 73.5 484.9 75 483.8 76.5 482.9 78 482 79.5 480.6 81 479.8 82.5 478.7 84 477.1 85.5 476.1 87 475.4 88.5 475.1 90 474.1 91.5 473.5 93 472.7 94.5 471.7 96 471 97.5 470.1 99 469.5 100.5 469.4 102 468.8 103.5 468.2 105 467.5 106.5 466.9 108 466.3 109.5 465.8 111 464.7 112.5 464.3 114 463.5 115.5 463.2 117 462.6 118.5 461.5 120 460.6 121.5 460.1 123 459.4 124.5 459.1 126 458 127.5 457.2 129 455.8 130.5 454.9 132 453.7 133.5 453 135 451.9 136.5 451.3 138 450.6 139.5 449.5 141 448.4 142.5 448.3 144 447.6 145.5 446.5 147 445.7 148.5 445.3 150 444.1 151.5 443.4 153 442.9 154.5 442.2 156 441.4 157.5 440.9 159 440.1 160.5 439.4 162 438.7 163.5 438.1 165 437.6 166.5 437 168 436.6 169.5 436 171 435.3 172.5 434.6 174 434.2 175.5 433.4 177 433 178.5 432.2 180 431.4 181.5 430.5 183 429.8 184.5 429.2 186 428.6 187.5 427.7 189 427.1 190.5 426.9 192 426 193.5 425.7 195 425 196.5 424.5 198 423.4 199.5 422.6 201 422 202.5 421 204 419.7 205.5 419.1 207 417.9 208.5 417.7 210 416.7 211.5 416.2 213 415.1 214.5 414.7 216 413.5 217.5 413.3 219 412.2 220.5 411.2 222 411 223.5 410.2 225 409 226.5 408.5 228 407.7 229.5 406.7 231 406.2 232.5 405.7 234 404.4 235.5 403.8 237 403 238.5 402.1 240 401.1 241.5 400.4 243 399.2 244.5 398.4 246 397.5 247.5 396.4 249 395.8 250.5 395.1 252 394.1 253.5 392.9 255 392.1 256.5 391.4 258 390.1 259.5 389.2 261 388.6 262.5 387.1 264 386.2 265.5 385.2 267 384.5 268.5 383.1 270 382.8 271.5 382 273 381.3 274.5 380.6 276 379.8 277.5 378.9 279 378 280.5 377.4 282 376.3 283.5 375.5 285 374.9 286.5 374 288 372.8 289.5 372.1 291 371.4 292.5 370.3 294 369.8 295.5 368.6 297 367.9 298.5 367.3 300 366.5 301.5 366 303 365 304.5 364.2 306 363.8 307.5 363.2 309 362.4 310.5 361.3 312 360.7 313.5 359.9 315 359.7 316.5 358.8 318 357.8 319.5 357.7 321 356.4" stroke="#4a4a4a" stroke-width="1.0" fill="none" stroke-opacity="1.0" stroke-linejoin="round"/>
<path d="M66 481.4 67.5 480.4 69 479.5 70.5 478.7 72 477.3 73.5 476.2 75 475.3 76.5 474.7 78 473.3 79.5 472.8 81 471.8 82.5 470.5 84 469.8 85.5 469 87 468.3 88.5 468.1 90 466.8 91.5 466.1 93 466.1 94.5 465 96 464.2 97.5 463.5 99 462.8 100.5 462.5 102 461.2 103.5 460.5 105 460 106.5 459.3 108 458.9 109.5 458.1 111 457.1 112.5 456.3 114 456 115.5 455.3 117 453.8 118.5 453.4 120 452.7 121.5 451.7 123 450.6 124.5 450.1 126 449.2 127.5 447.7 129 447 130.5 445.6 132 444.4 133.5 443.6 135 442.5 136.5 441.6 138 440.9 139.5 440.1 141 439.3 142.5 438.4 144 437.6 145.5 436.5 147 435.5 148.5 434.9 150 434.6 151.5 433.9 153 433.4 154.5 432.4 156 431.9 157.5 431.6 159 430.7 160.5 430 162 428.8 163.5 428.3 165 427.9 166.5 427 168 426.6 169.5 425.5 171 425 172.5 424.7 174 423.8 175.5 423.5 177 422.8 178.5 422 180 421.6 181.5 421.7 183 420.7 184.5 420.3 186 420 187.5 419.7 189 419.3 190.5 418.6 192 418.1 193.5 417.8 195 416.9 196.5 416.1 198 415.4 199.5 414.6 201 413.3 202.5 412.4 204 411.6 205.5 411.1 207 410.2 208.5 409.6 210 408.7 211.5 407.6 213 407.2 214.5 406.6 216 405.4 217.5 404.5 219 404 220.5 403.1 222 402.1 223.5 401.1 225 400.3 226.5 400 228 398.5 229.5 398 231 396.9 232.5 395.9 234 395.2 235.5 393.7 237 392.5 238.5 391.5 240 390.6 241.5 389.3 243 388.4 244.5 387.1 246 386.4 247.5 385.8 249 384.9 250.5 384.3 252 383.4 253.5 382.4 255 381.7 256.5 381.4 258 380.3 259.5 379.5 261 378.3 262.5 377.2 264 375.9 265.5 375.4 267 373.9 268.5 373.1 270 372 271.5 371.3 273 370.4 274.5 369.6 276 368.9 277.5 367.9 279 366.9 280.5 366.4 282 365.6 283.5 364.9 285 363.6 286.5 363.3 288 362.7 289.5 361.5 291 360.7 292.5 360.4 294 359.1 295.5 357.8 297 356.9 298.5 355.3 300 353.9 301.5 352.7 303 351.5 304.5 350.5 306 349.1 307.5 348.5 309 347 310.5 346.2 312 345.6 313.5 344.5 315 343.5 316.5 342.8 318 341.3 319.5 340.3 321 339.2 322.5 338.6 324 337.6 325.5 336.8 327 335.6" stroke="#f04040" stroke-width="1.0" fill="none" stroke-opacity="1.0" stroke-linejoin="round"/>
<path d="M66 472.7 67.5 471.5 69 470.2 70.5 469.3 72 467.7 73.5 466.6 75 465 76.5 464.2 78 463.4 79.5 462.1 81 461.4 82.5 460.3 84 458.9 85.5 457.9 87 457.8 88.5 456.8 90 456.1 91.5 456 93 455.5 94.5 454.9 96 454.4 97.5 453.3 99 452.7 100.5 452.1 102 452.1 103.5 450.7 105 449.7 106.5 448.6 108 447.6 109.5 446.5 111 445.7 112.5 444.5 114 443.8 115.5 443.4 117 442.2 118.5 441.8 120 441 121.5 440.2 123 439.4 124.5 438.8 126 437.8 127.5 436.6 129 435.8 130.5 434.8 132 434 133.5 433.4 135 431.9 136.5 430.5 138 429.7 139.5 428.8 141 427.4 142.5 426.5 144 424.9 145.5 423.7 147 423 148.5 421.4 150 420.4 151.5 419.3 153 417.9 154.5 416.7 156 415.5 157.5 415.7 159 415 160.5 414.7 162 414 163.5 413.8 165 413.3 166.5 412.7 168 412 169.5 411.4 171 410.6 172.5 410.1 174 409.7 175.5 408.7 177 408.5 178.5 407.4 180 406.5 181.5 405.8 183 404.8 184.5 403.5 186 402.7 187.5 401.6 189 400.8 190.5 400.6 192 399.5 193.5 398.9 195 397.9 196.5 396.7 198 396.3 199.5 395.4 201 394.2 202.5 393 204 392.3 205.5 391.3 207 390.6 208.5 389.7 210 389.5 211.5 389.1 213 387.9 214.5 387.7 216 386.9 217.5 386.2 219 385.9 220.5 385.1 222 385 223.5 384.1 225 384.3 226.5 383.4 228 382.9 229.5 383.1 231 382.7 232.5 382.1 234 381.6 235.5 380.7 237 379.9 238.5 379.4 240 379.2 241.5 378.6 243 377.4 244.5 377 246 376.3 247.5 376 249 374.8 250.5 374.7 252 373.7 253.5 373.3 255 372.4 256.5 371.7 258 371.7 259.5 370.8 261 370.5 262.5 369.8 264 369.1 265.5 368 267 367.7 268.5 367.4 270 366.2 271.5 365 273 364.2 274.5 363.9 276 363 277.5 361.6 279 360.8 280.5 360.2 282 359.2 283.5 358.1 285 357.8 286.5 356.6 288 355.6 289.5 354.5 291 353.9 292.5 353.2 294 351.9 295.5 350.9 297 350.4 298.5 349.6 300 348.3 301.5 347.5 303 346.7 304.5 345.7 306 344.4 307.5 343.5 309 342.4 310.5 341.4 312 340.2 313.5 339.4 315 338.2 316.5 337.7 318 336.6 319.5 336.3 321 335.5 322.5 334.4 324 333.6" stroke="#2a6ce0" stroke-width="1.0" fill="none" stroke-opacity="1.0" stroke-linejoin="round"/>
<path d="M66 477.1 67.5 475.9 69 474.7 70.5 473 72 471.9 73.5 470.8 75 469.5 76.5 467.8 78 467 79.5 465.7 81 464.4 82.5 463.6 84 462 85.5 461 87 460.5 88.5 459.4 90 458.2 91.5 457.4 93 456.6 94.5 455.4 96 455 97.5 454.4 99 453.4 100.5 452.9 102 452.2 103.5 451.2 105 450.6 106.5 449.1 108 448 109.5 447.6 111 446.1 112.5 445 114 444.4 115.5 443.3 117 442 118.5 441.2 120 440.2 121.5 439.4 123 438.3 124.5 437.7 126 436.6 127.5 435.6 129 434.4 130.5 433.3 132 432.2 133.5 431.8 135 430.6 136.5 429.3 138 427.7 139.5 426.4 141 425.1 142.5 424 144 422.5 145.5 421.3 147 420 148.5 418.7 150 417.8 151.5 416.9 153 416.2 154.5 415.4 156 414.8 157.5 414.2 159 413.1 160.5 412.2 162 411.7 163.5 410.9 165 410.4 166.5 409.2 168 409 169.5 407.6 171 407.2 172.5 406.4 174 405.6 175.5 405.1 177 404.1 178.5 402.9 180 402.2 181.5 401.4 183 400.2 184.5 399.3 186 398.8 187.5 398.2 189 397.3 190.5 396.6 192 396 193.5 395.1 195 394.9 196.5 394 198 392.8 199.5 391.6 201 391 202.5 390.4 204 389.2 205.5 388.2 207 387.4 208.5 386.9 210 386.1 211.5 385.2 213 384.6 214.5 384 216 383.4 217.5 382.5 219 381.5 220.5 380.9 222 380.2 223.5 379.2 225 378.3 226.5 377.3 228 376.4 229.5 375.8 231 374.7 232.5 373.9 234 372.5 235.5 371.4 237 370.5 238.5 369.8 240 368.7 241.5 367.5 243 366.5 244.5 366 246 364.4 247.5 364 249 362.9 250.5 361.7 252 361 253.5 359.8 255 358.3 256.5 358 258 357 259.5 356.8 261 356.1 262.5 355 264 354.3 265.5 353.6 267 353.6 268.5 352.9 270 351.7 271.5 350.8 273 350.1 274.5 349.6 276 348.7 277.5 347.9 279 347.1 280.5 346.1 282 345.3 283.5 343.9 285 342.8 286.5 342.4 288 341.2 289.5 340 291 338.8 292.5 338 294 337.2 295.5 336.5 297 335.7 298.5 334.8 300 333.9 301.5 333.2 303 332.3 304.5 331.5 306 330.8 307.5 329.8 309 329.4 310.5 328.4 312 327.4 313.5 326.7 315 325.5 316.5 324.6 318 324.1 319.5 323.6 321 323.1 322.5 322.4 324 321.8 325.5 321.6 327 320.4" stroke="#34a058" stroke-width="1.0" fill="none" stroke-opacity="1.0" stroke-linejoin="round"/>
<path d="M66 469.9 67.5 468.5 69 467.1 70.5 465.7 72 464.2 73.5 462.3 75 461.4 76.5 459.9 78 458.7 79.5 457.5 81 456.6 82.5 455.3 84 454.4 85.5 453.6 87 452.7 88.5 451.7 90 450.2 91.5 449.2 93 448.4 94.5 447.6 96 446.9 97.5 446.1 99 445.4 100.5 444.3 102 443.6 103.5 442.5 105 441.7 106.5 441.4 108 441.3 109.5 441.1 111 440.7 112.5 440.3 114 439.8 115.5 438.9 117 438.5 118.5 437.6 120 437 121.5 436.3 123 435.2 124.5 434.3 126 433.6 127.5 433.2 129 432.3 130.5 431.2 132 430.7 133.5 429.6 135 429.1 136.5 427.6 138 427.1 139.5 426.2 141 424.8 142.5 423.8 144 422.5 145.5 421.6 147 420.5 148.5 419.5 150 418.4 151.5 417.8 153 416.9 154.5 416.5 156 415.7 157.5 414.8 159 414.5 160.5 413.4 162 412.8 163.5 412.3 165 411.4 166.5 410.8 168 409.9 169.5 409.3 171 408 172.5 407.7 174 406.7 175.5 405.8 177 405.3 178.5 404.3 180 403.2 181.5 402.3 183 401.4 184.5 400.9 186 399.8 187.5 398.9 189 398.6 190.5 397.8 192 397.4 193.5 397.1 195 396.9 196.5 396 198 394.8 199.5 394.1 201 392.8 202.5 392.3 204 391.6 205.5 390 207 389.5 208.5 388.5 210 387.1 211.5 386.3 213 385.4 214.5 383.8 216 383 217.5 382.2 219 381.4 220.5 380.2 222 379.6 223.5 378.7 225 377.9 226.5 376.8 228 375.9 229.5 374.6 231 373.5 232.5 372.4 234 371.4 235.5 370.4 237 369.4 238.5 368.4 240 367.4 241.5 366.6 243 366.1 244.5 364.7 246 364.3 247.5 363.3 249 362.1 250.5 361.1 252 360.6 253.5 359.8 255 358.4 256.5 357.8 258 357 259.5 356 261 354.7 262.5 353.9 264 353.4 265.5 352.4 267 351.5 268.5 350.3 270 349.9 271.5 348.9 273 347.8 274.5 347.1 276 345.9 277.5 345.1 279 344.2 280.5 343.6 282 342.4 283.5 340.9 285 340 286.5 338.6 288 337.9 289.5 337 291 335.9 292.5 334.6 294 333.9 295.5 332.9 297 332.3 298.5 331.1 300 330.3 301.5 329.5 303 329.2 304.5 328.1 306 327.3 307.5 326.4 309 325.2 310.5 324.4 312 323.1 313.5 322.1 315 320.7 316.5 319.8 318 318.4 319.5 317.6 321 316.9 322.5 316.1 324 315 325.5 313.6 327 313.4" stroke="#a570ec" stroke-width="1.0" fill="none" stroke-opacity="1.0" stroke-linejoin="round"/>
<path d="M55.6 760.6H57V759.7H58.3V759.6H59.8V759.4H61.6V758.5H62.8V755.9H64.6V747.7H66.2V737.8H67.4V730.8H69.1V724.2H70.3V720.2H71.7V717.8H73.2V715.5H74.9V713H76.3V710.5H77.2V710.9H79V710.8H80.1V710.2H81.3V709.8H83.1V709.9H84.5V709.2H85.9V709.8H86.8V708.6H88V710H89.3V709.1H90.4V709.8H91.4V708.9H92.3V709.7H94.1V709.4H95.4V710H96.9V710.2H97.8V709.4H98.9V710.9H100V710.3H100.9V711.1H102.1V710.7H103.8V712H105.6V710.9H106.6V711.8H107.8V711.6H109.6V710H110.9V710.5H112.2V709.9H113.3V710.4H115V710H115.9V709.3H117.5V709.4H118.6V708.3H120.3V708.3H121.3V709H122.3V707.3H123.8V706.8H124.9V705.6H126.2V704H127.5V701.9H128.9V701.2H130.1V699.5H131.5V698.6H133V698.5H134.3V698H135.8V697.7H137.3V698.2H138.6V697.3H139.6V697.5H140.9V697.3H142V697.2H143.1V698.3H144.7V696.9H145.9V698.1H147.4V696.9H148.8V698.1H149.8V696.9H151.1V697.5H152.6V696.6H153.9V697.4H155.2V697.4H156.2V697.2H157.2V697.8H159.1V697H160.4V696.3H162.1V695.5H163.2V695.2H164.8V696.1H166V694.3H167.3V695.4H168.9V693.7H170V694.2H171.3V694.6H173V694H174.1V692.8H175.2V692.7H176.8V692.7H178V692.3H179.4V693.7H180.6V693.2H182.2V692.1H183.7V690.3H185.5V689.8H186.7V688.2H188.1V688H189.7V687.5H191V685.7H192.5V686.2H193.5V687.2H195.2V685.8H196.4V686.5H197.4V685.8H198.9V686.3H200V685.2H201.5V686.2H202.6V684.8H204.2V685.7H206V684.3H207.3V685H208.3V684.6H209.5V683.7H211V683.3H212.2V683.7H213.2V682.6H214.7V683.4H216.5V683H217.9V681.3H219.6V681.6H220.6V682.4H222.1V681.9H223.8V679.8H224.9V681H226.4V679.5H227.9V680.2H228.9V679.6H230.2V678.9H231.8V679H232.8V677.7H234V676.8H234.9V678.8H236.7V677.7H238.3V678.4H239.7V676.6H241.1V677.3H242.5V678.1H244.1V678.9H245.7V677.6H247.3V679.3H248.2V678.4H249.9V680.1H251.4V678.3H253.2V678.6H254.4V677.5H256.1V676.2H257.3V678H259.1V675.5H260.1V676.6H261.9V675.1H263.3V675.8H264.4V676.6H266.1V674.7H267.4V676.2H269.2V676.2H270.4V675.1H271.5V674.7H272.8V675.3H274.1V673.6H275.2V674H276.2V672.9H277.5V672.9H279.1V671.6H280.3V672.2H281.3V669.9H283V669.4H284.5V670.8H285.9V669H287.5V669.3H288.6V667.9H290.2V668.8H291.1V668.3H292.5V668.1H293.9V669.3H295V668.6H296.7V668.6H297.8V670.1H299.4V669.4H300.8V671.3H301.7V669.3H303.1V670.3H304.2V669.4H305.6V671.1H306.8V670.5H308V668.6H309.5V669.4H311V668.1H312.8V669.2H314.1V668.3H315.5V667.2H317V668.8H318.4V666.7H319.9V667.5H320.8V666.8" stroke="#4a4a4a" stroke-width="1.2" fill="none" stroke-opacity="1.0" stroke-linejoin="round"/>
<path d="M55.6 760.6H56.7V760.4H57.9V761.3H59.6V761H61.1V759.4H62.9V759.1H64.2V758H65.5V747.9H66.6V739.7H67.9V728.3H69.6V721.2H71.4V715.8H72.7V713.9H74.4V713.4H75.7V711.6H77.5V710.3H79.3V710.2H80.9V709.4H81.9V708H83.3V707.9H84.9V706.1H85.8V706.3H87.6V704.3H89V704.8H90.6V703.1H91.5V703.5H92.9V701.6H94.5V702.1H95.4V701.4H97.2V700.9H98.5V699.7H100V700.1H101.2V699.3H102.9V699.5H104.5V698.3H106.3V698.2H107.3V698.8H108.3V698.7H110.1V698.5H111.4V698H112.8V699.5H114.3V699H115.7V698.6H117V699.2H118.3V697.3H119.7V698.4H121.1V696.6H122.4V696.3H123.4V697.5H125V696.1H126.7V696H128V694.8H129.2V694.8H130.4V693.5H132V693.6H133.5V692.1H134.7V691.7H135.7V691H137V690.7H138.3V689.3H139.7V688.4H140.6V689.1H142V687.3H143.6V687.7H145.2V685.3H146.7V684.4H148.2V681.8H149.8V679.7H151.1V679.5H152.7V678.6H153.8V679.6H155V679.1H156.1V678.2H157.1V679.1H158.2V678.6H159.3V679.9H160.4V680.3H162.1V680.6H163.3V679.9H164.5V680.1H166V680.7H167.1V680H168.2V680.8H169.6V679.7H171.4V679.8H172.8V678.8H174.1V679.5H175.7V679.8H177.3V678.5H178.6V678.9H179.5V678.9H180.7V677.4H182.3V678.2H183.3V677H185.1V676.9H186.2V677.1H187.9V674.1H189.5V671.7H190.7V671H192.4V669.6H193.6V669.4H194.7V667.5H196.4V666.7H198.1V665.5H199.8V662.1H201.4V661.2H203.2V659.9H204.6V663.4H206V662.2H207.5V663.8H208.4V662.7H210.1V662.2H211.3V663.6H212.5V663.8H214.2V663.3H215.1V661.2H216.3V662.8H217.3V662.2H218.5V662.4H219.5V661.6H220.9V661.2H221.9V661.4H223.1V661.8H224.7V660.7H226.4V660.7H228.1V659.7H229.4V659.9H231V659.6H232.5V658H234V657H235.4V657.1H236.6V655.2H238.3V654.4H239.6V654.8H240.6V653.4H241.9V652.9H243V653.9H244.8V652.5H245.9V653.3H246.9V651.2H248.4V653.2H249.6V653H251.3V652.9H252.4V650.7H253.4V651.1H255V649.2H256.5V649.6H258V648.5H259.7V648.3H260.8V646.7H262.1V646.1H263.8V646.6H265.4V645.4H266.6V646.7H268V645.9H269.4V647.6H270.7V646.8H271.9V648.6H273.5V647.2H275.3V647.9H276.2V646.7H277.9V648.1H278.9V646.9H280.6V646.3H281.6V647.8H282.5V646.2H283.8V647.8H285.5V645.9H287V645.9H288V644.9H289.1V645H290.3V643.7H291.8V643H293.2V643.6H294.5V643H296.1V641.1H297.2V640.8H298.5V638.7H299.7V639.1H300.8V636.8H302.1V637.2H303.6V633.2H304.7V631.4H306.3V625.8H307.2V627.1H308.6V626.9H310.1V627.2H311.4V625.2H312.4V626.2H314.1V624.3H315.6V625.5H317.2V623.1H318.4V625.4H319.5V625H321.2V624.1H322.3V625.6H323.4V626.6H324.7V626.9H326.2V626.9H326.9V625.8" stroke="#f04040" stroke-width="1.2" fill="none" stroke-opacity="1.0" stroke-linejoin="round"/>
<path d="M55.6 753.4H57.4V752.9H59.2V753.9H61V750H62.5V748.1H63.4V744.5H65.1V734.6H66.8V723.3H68.5V712.2H69.9V704H71.4V698.4H72.4V694.6H73.7V691.3H74.7V688.2H76V687.2H77.1V685.7H78.4V683.7H79.9V683H81.3V681.9H82.4V681H83.3V681.8H84.9V680.2H86V679.4H87.6V676.7H88.8V676H89.8V675.5H91.5V674.6H92.7V674.1H94V672.9H95.2V673.3H96.8V671.7H98.3V671.1H99.8V671.9H101.1V670.9H102.8V670.1H104V671.1H105.1V670.4H106.6V671H108.3V671.2H109.8V672.3H111.6V671H113V671H114.7V670.2H116V670.7H116.9V669.1H118.5V669.1H119.9V668.8H121.4V666.6H122.6V667.3H124V666.8H125.1V665.2H126.3V664.5H128.1V664.6H129.3V664.3H130.7V662.7H132V662.5H133.6V661.2H134.8V660.7H135.9V660.8H137.7V660H139.4V659.3H140.8V657.8H142.1V658.5H143.4V657H144.9V656.9H145.8V655.5H147.2V655.6H148.6V654.4H149.9V653.1H150.9V655H152.1V655.5H153V653.4H154.4V654.3H155.7V653.2H156.9V653.3H158.2V654.3H159.1V653.9H160.1V653.2H161.1V652.5H162.2V653.3H163.5V653.6H165.1V653.6H166.6V653H168.1V653.5H169.5V652.2H171V653.6H172V652.8H173.2V651.8H174.3V653.4H175.9V652.8H177.2V653H178.6V653.1H180.4V651.6H182V652.7H183.7V651.6H184.9V651.2H186V651.8H187.1V650.5H188.4V652.1H189.8V649.1H191V650.3H192V648.9H192.9V649.8H194V648.1H195.2V649.1H196.4V647.8H197.4V648.3H199.2V646.9H200.4V647.4H202.1V646.4H203.1V645.7H204.8V645.7H206.4V646.8H207.7V645.4H209.2V646.1H210.7V645.6H212.5V644.4H213.7V645.8H215.4V644.5H217.3V645.1H218.3V645.5H219.8V643.9H220.8V644.1H222V644.5H223.8V643.1H225.5V644.5H226.4V642.9H228.2V644H229.5V643.6H230.7V641.9H232.5V642.8H234V642.6H235.3V641.3H236.3V642.5H237.5V640.9H238.6V642.1H239.9V641.4H241.1V640.8H242V641.5H243V640.7H244.1V641.3H245.1V640.2H246.6V641.4H248.2V639.4H249.7V641.2H251V640.1H252.1V641.5H253.7V640.6H255V640.3H256.8V640.9H258V639.1H259.9V640H261.3V640.2H262.6V639.3H263.6V639.7H265V641.1H266.4V640.1H267.9V640.7H269.3V640H270.8V639.4H271.9V640.1H272.9V639.1H274.5V638.6H276.2V639H278V636.7H279.3V636.6H280.9V635.6H281.9V635.6H283.7V636H285.3V635H286.9V632.9H288.6V631.9H289.6V631.9H290.7V632.6H292.4V633H293.4V631.3H294.4V632.7H296V632.1H297.4V630.2H298.3V631.7H299.3V631.5H300.9V629.6H302.5V629.7H303.6V630.9H304.7V631.6H306.3V629.8H307.3V631H308.5V630.6H310.2V631.4H311.5V631.3H313.1V630.5H314.1V630.4H315.9V631.8H317.1V632.7H318.7V633.4H320.5V631.7H322.1V632.8H322.8V631.2" stroke="#2a6ce0" stroke-width="1.2" fill="none" stroke-opacity="1.0" stroke-linejoin="round"/>
<path d="M55.6 761.6H57.1V760.9H58.8V758.8H60.5V757.6H62.1V752.9H63.4V750.6H64.7V743.5H66.5V728.6H68.1V717.2H69.7V708.5H70.8V705.2H71.8V702.2H72.8V701.4H73.9V698.9H75V698.5H76.3V696.9H77.4V697.9H78.7V696.8H79.8V696.9H80.9V696.8H82V696.4H83.1V696H84.1V695.6H85.7V694.7H87.2V695.3H89V694H90.6V693.7H92V694.6H93.3V693.4H94.8V693.7H95.8V692.6H97.2V693.5H98.5V692.9H100.3V693.2H101.8V692.2H103V693H103.9V693H105.7V691.4H107V691.7H108.1V690.7H109.4V691.3H110.6V689.9H112.3V689.5H113.7V689.9H114.9V688.7H116.4V688.9H118.1V687.5H119.8V685.8H121.2V687H122.7V687.1H124V686H125.2V684.8H126.1V685.8H127.4V683.6H128.3V684.1H129.6V683.7H131V683.1H132V682.3H133.5V682.2H134.7V681.4H136.5V681H137.7V679.8H139V679.5H140.2V678.4H141.6V678.5H142.7V679H143.8V678.5H144.9V677H146.7V676.3H148.4V675.9H149.3V674.6H151V677.7H152V676.9H153.7V678.3H155.4V677H157.1V677.6H158.8V676.3H160.1V677.4H161V676.4H162.1V676.6H163.7V674.7H165.1V675.6H166.5V674.2H167.7V673.4H169V673.7H170.7V672.4H171.9V673.1H173.4V671.1H174.9V671.7H176.7V671.4H178.3V670.7H179.9V670.1H180.8V668.9H182.3V668.3H184.1V667.5H185.9V667.5H187.6V666.4H188.8V664.2H190.1V664.5H191.8V662.7H192.8V663.3H194.1V662.3H195.6V662.4H197.3V659.8H199.1V661.2H200.1V659.6H201.6V659.9H202.8V658.6H204.6V659.3H206.3V657.8H207.7V658.9H208.8V658H210.1V658.9H211.4V657.6H212.5V657.4H213.8V656.7H215.5V657.2H216.8V656.7H217.8V656.4H219.1V657.7H220V656.3H221.3V657.8H222.8V656.3H223.7V656H225.1V657H226.7V655.9H228.3V657.2H229.5V656.9H230.7V655.7H232.3V655.8H233.8V656.1H235.3V653.5H236.8V653.6H237.9V651.1H239.5V651.5H241.3V649.5H242.6V648H243.6V646.8H245.1V646.4H246.7V644.3H248.3V643.1H250.1V641.4H251.1V641.6H252.5V640.3H254.2V638.2H255.4V639.2H256.8V638H257.8V637.5H258.8V636H260.1V636.6H261.8V635.8H263.6V635.5H265.3V637H266.4V638H268.2V638H269.8V639.2H271.2V639.3H272.2V638.4H273.6V637.7H274.7V638.4H276.1V639H277.5V637H279V637.7H280.5V635.1H281.9V635.8H283.3V634.8H284.3V633.5H285.9V634.1H287.6V633.4H289.1V631.8H290.1V632.5H291.3V630.5H292.5V630.8H293.6V631.4H294.7V630.7H296.5V630.2H297.8V629.8H299V628.4H300.6V628.7H301.8V627.4H303.2V628.8H304.6V627.2H306.3V627.8H307.3V626.7H309V626.4H310.5V627.9H312V625.1H313.2V625H314.2V626.7H315.1V624.9H316.3V625.6H317.8V624.4H319.3V624.4H320.5V624.5H322.3V625.1H323.3V625.5H324.7V626.3H325.9V626.9H326.9V625" stroke="#34a058" stroke-width="1.2" fill="none" stroke-opacity="1.0" stroke-linejoin="round"/>
<path d="M55.6 764.7H57.3V764.3H59.1V760.9H60.4V756.1H61.3V752.6H62.7V746.6H63.8V743.4H65.1V736.4H66.2V730.3H67.8V720.6H69.4V712H70.5V705.3H71.6V702.5H73.3V697.1H75.1V692.9H76.7V689.8H77.8V687.9H79.2V686.3H80.8V684.4H82.3V682H83.5V681.8H84.5V679.9H86.2V680.3H87.3V680.3H89.1V680H90.9V679.1H92V679.6H93V679.3H94.7V678.7H96.3V679.5H98V678.8H99V679.7H100V679H101V680.2H102.2V679.2H103.3V679.3H104.3V679.6H105.9V679H106.9V680.1H108.3V678.7H109.9V679H111.2V678H112.8V679.1H114V678.6H115.3V677.5H117V677.6H118.6V676.1H120.2V676.6H121.3V675.7H123V675H124V675.9H125V674.1H126.4V674.9H128.1V673.3H129.1V673.9H130.5V672.5H131.6V673.1H133.2V673H134.9V671.5H136.2V671.3H137.3V672.2H138.3V670.8H139.8V670.8H141.2V671.9H142.2V670.7H143.3V671.8H144.5V670.5H145.7V671.5H147.1V670.6H148.3V670.7H150.1V670.4H151.6V671.4H153.1V671.8H154V670.8H155.7V672.3H157.5V671.7H158.5V672.4H159.9V671.3H161.6V672.7H163.1V671.6H164.7V672.2H165.8V672.8H166.9V672.3H168.4V672.6H170.1V671.7H171.3V670.8H172.8V670H174.6V669.1H176.3V668H177.5V668.3H179.2V666.6H180.6V665.8H181.9V666.1H183V665H184V665.7H185.2V664H186.8V663.7H187.9V662.4H188.9V662.5H190V660.5H191.2V661.4H192.5V660.2H194.1V659.9H195.1V661H196.9V660.5H198.1V659.3H199.6V658.6H201.4V659.4H202.7V659.4H204.5V658.2H205.7V659.1H207.5V659.2H209V658H210.1V657.5H211.2V658.2H212.4V659.2H213.4V658.3H214.6V657.7H216V658.5H217.8V659H219.6V657.6H220.8V658.2H222.4V656.6H223.8V656.5H225.5V657.6H227.2V657.4H228.3V656.7H229.8V657.5H231.1V656.3H232.4V656.8H233.8V655.2H235.6V654.2H237.1V654.3H238V654.5H239.3V654.2H240.7V652.1H241.9V653H243.1V652.4H244.7V653.5H245.8V652.9H247.2V651.9H249V652.4H250.5V651.9H252.1V651.4H253.4V652.1H255.1V649.9H256.7V650.6H258.1V649.7H259.8V649.5H260.9V648.5H261.8V649.4H262.8V647.6H264.6V648.3H266.2V647.4H267.2V648.6H269V647.1H269.9V647.8H271.8V647.8H272.9V646.2H274.3V647.7H275.5V647.6H277V646.9H278.2V648.3H279.9V647.1H281.4V647.4H283.1V648.3H284.5V646.2H285.9V645.4H287.5V645.7H289V646.1H290.3V644H291.3V644.8H293V643.4H294.3V644.2H295.7V642.6H297.4V643H298.6V642.3H300.4V642.6H301.4V641.9H302.5V640.5H304.2V640.3H305.2V640.9H306.4V640.1H307.4V641.1H308.9V640.7H310.5V641.9H311.4V640.6H313.1V643.7H314.8V641.4H316.3V643.2H318.1V644.1H319.7V642.3H321.4V642.1H323.1V642.1H324.2V644H325.5V642H326.5V642.8H326.9V642.7" stroke="#a570ec" stroke-width="1.2" fill="none" stroke-opacity="1.0" stroke-linejoin="round"/>
<path d="M405.6 780.5 407.1 779.8 408.6 778.8 410.1 778.3 411.6 777.2 413.1 776 414.6 775.1 416.1 773.7 417.6 772.1 419.1 770.2 420.6 768.2 422.1 766.9 423.6 765.9 425.1 765.4 426.6 764 428.1 763.6 429.6 762.4 431.1 761.7 432.6 761.3 434.1 760.7 435.6 760 437.1 759.4 438.6 758.8 440.1 758.2 441.6 757.3 443.1 756.8 444.6 756 446.1 755.7 447.6 754.8 449.1 754.1 450.6 753.4 452.1 753.1 453.6 751.9 455.1 751.6 456.6 751 458.1 749.9 459.6 749.7 461.1 748.7 462.6 748.3 464.1 747.3 465.6 746.8 467.1 746.3 468.6 745.6 470.1 745.1 471.6 744.1 473.1 742.9 474.6 742.3 476.1 741.1 477.6 740.3 479.1 739.6 480.6 738.6 482.1 737.9 483.6 737.4 485.1 736.6 486.6 735.7 488.1 735.1 489.6 733.9 491.1 733.5 492.6 732.9 494.1 732.1 495.6 731.1 497.1 730.5 498.6 729.7 500.1 729.1 501.6 728.8 503.1 727.7 504.6 727.4 506.1 726.4 507.6 726 509.1 725.3 510.6 724.4 512.1 724.1 513.6 723.3 515.1 723.3 516.6 722.7 518.1 721.9 519.6 721.5 521.1 720.9 522.6 720 524.1 719.4 525.6 719 527.1 718.5 528.6 718 530.1 717.6 531.6 717.1 533.1 716.4 534.6 715.5 536.1 715.1 537.6 714.7 539.1 714.2 540.6 713.1 542.1 712.9 543.6 712.1 545.1 711.4 546.6 711.1 548.1 709.9 549.6 708.9 551.1 708.1 552.6 707.1 554.1 705.8 555.6 705 557.1 703.9 558.6 703.2 560.1 701.8 561.6 701.6 563.1 700.6 564.6 699.7 566.1 699 567.6 698.5 569.1 697.7 570.6 696.7 572.1 695.9 573.6 695.1 575.1 694.6 576.6 694 578.1 692.9 579.6 692.5 581.1 691.6 582.6 691 584.1 689.9 585.6 689.1 587.1 688.6 588.6 688.1 590.1 687 591.6 686.3 593.1 685.6 594.6 684.6 596.1 683.9 597.6 683.1 599.1 682.3 600.6 681.1 602.1 680.2 603.6 679.1 605.1 678.2 606.6 677.2 608.1 675.9 609.6 675.4 611.1 674.5 612.6 673.9 614.1 673 615.6 672.1 617.1 671.3 618.6 670.8 620.1 670.2 621.6 669.5 623.1 668.4 624.6 667.5 626.1 666.9 627.6 666.6 629.1 665.6 630.6 664.6 632.1 664.3 633.6 663.4 635.1 662.8 636.6 661.7 638.1 661.3 639.6 660.3 641.1 659.7 642.6 658.6 644.1 658.3 645.6 657.6 647.1 656.6 648.6 655.9 650.1 654.8 651.6 654.4 653.1 653.7 654.6 653 656.1 652.2 657.6 651.1 659.1 650.6 660.6 649.7 662.1 648.5 663.6 647.6" stroke="#4a4a4a" stroke-width="1.0" fill="none" stroke-opacity="1.0" stroke-linejoin="round"/>
<path d="M405.6 770.8 407.1 769.9 408.6 769.1 410.1 767.9 411.6 767 413.1 766 414.6 764.6 416.1 763.2 417.6 761.9 419.1 760.5 420.6 759.2 422.1 758.8 423.6 758.2 425.1 757.3 426.6 756.5 428.1 755.6 429.6 754.9 431.1 753.9 432.6 753.5 434.1 752.5 435.6 751.8 437.1 751.5 438.6 750.3 440.1 750 441.6 749 443.1 748.4 444.6 747.5 446.1 746.6 447.6 746.3 449.1 745.5 450.6 745 452.1 744.2 453.6 743.5 455.1 743.1 456.6 742.3 458.1 741.9 459.6 741.6 461.1 741.1 462.6 740.1 464.1 739.3 465.6 738.9 467.1 737.9 468.6 737.3 470.1 736.8 471.6 736 473.1 734.9 474.6 734.4 476.1 733.6 477.6 732.7 479.1 731.7 480.6 731 482.1 730 483.6 729.5 485.1 728.6 486.6 727.7 488.1 726.7 489.6 726.2 491.1 725.2 492.6 724.4 494.1 723.9 495.6 723.6 497.1 722.5 498.6 722.2 500.1 721.7 501.6 721 503.1 720.1 504.6 719.5 506.1 719.1 507.6 718.3 509.1 717.8 510.6 716.8 512.1 716.4 513.6 715.8 515.1 714.9 516.6 714.2 518.1 714 519.6 713.2 521.1 712.6 522.6 712.1 524.1 711.5 525.6 710.9 527.1 710.3 528.6 709.9 530.1 709.3 531.6 709.2 533.1 708.6 534.6 707.7 536.1 706.7 537.6 706.3 539.1 705.3 540.6 704.6 542.1 703.8 543.6 703.2 545.1 702.2 546.6 701.6 548.1 700.8 549.6 700.2 551.1 699.8 552.6 698.8 554.1 698.2 555.6 697.4 557.1 696.5 558.6 695.5 560.1 694.7 561.6 693.9 563.1 693.2 564.6 692.2 566.1 691.7 567.6 690.4 569.1 689.5 570.6 688.9 572.1 688 573.6 686.8 575.1 686.1 576.6 685.3 578.1 684.6 579.6 683.7 581.1 682.9 582.6 681.8 584.1 681.2 585.6 679.9 587.1 678.8 588.6 677.7 590.1 677.1 591.6 676 593.1 675 594.6 674.2 596.1 673 597.6 671.9 599.1 671.3 600.6 670.5 602.1 669.2 603.6 668.8 605.1 667.6 606.6 666.5 608.1 665.9 609.6 665.2 611.1 664.1 612.6 663.1 614.1 662.6 615.6 661.3 617.1 660.8 618.6 659.7 620.1 659 621.6 658 623.1 657 624.6 656.1 626.1 655.6 627.6 654.5 629.1 653.5 630.6 652.8 632.1 652 633.6 650.7 635.1 649.8 636.6 648.5 638.1 647.7 639.6 646.2 641.1 645.5 642.6 644.2 644.1 643.1 645.6 642 647.1 640.7 648.6 639.7 650.1 638.4 651.6 637.3 653.1 636.4 654.6 635.2 656.1 633.9 657.6 633 659.1 632.3 660.6 631.5 662.1 630.2 663.6 629.7 665.1 628.7 666.6 628.3 668.1 627.4 669.6 626.5" stroke="#f04040" stroke-width="1.0" fill="none" stroke-opacity="1.0" stroke-linejoin="round"/>
<path d="M405.6 762.9 407.1 761.2 408.6 760.6 410.1 759 411.6 757.9 413.1 756.7 414.6 754.7 416.1 753.1 417.6 751.2 419.1 749.9 420.6 748.4 422.1 746.9 423.6 745.9 425.1 745.1 426.6 744.2 428.1 743.8 429.6 743 431.1 742.6 432.6 741.8 434.1 741.2 435.6 740.6 437.1 740.3 438.6 739.7 440.1 739.2 441.6 738.8 443.1 737.8 444.6 736.8 446.1 735.9 447.6 735.2 449.1 733.8 450.6 732.8 452.1 731.9 453.6 731 455.1 729.8 456.6 728.9 458.1 728.3 459.6 727.4 461.1 726.6 462.6 725.4 464.1 724.7 465.6 723.7 467.1 723 468.6 722.5 470.1 721.7 471.6 720.8 473.1 719.5 474.6 718.7 476.1 717.9 477.6 716.6 479.1 715.7 480.6 714.9 482.1 713.7 483.6 712.8 485.1 711.8 486.6 711.1 488.1 709.9 489.6 708.7 491.1 707.7 492.6 707 494.1 705.7 495.6 705.1 497.1 703.8 498.6 703.3 500.1 703 501.6 703 503.1 702.5 504.6 702.5 506.1 702.4 507.6 701.5 509.1 701.1 510.6 700.4 512.1 699.6 513.6 698.9 515.1 698.1 516.6 697.1 518.1 696.6 519.6 695.6 521.1 694.6 522.6 694.4 524.1 693.6 525.6 692.5 527.1 691.8 528.6 691 530.1 690.5 531.6 689.5 533.1 689.2 534.6 688 536.1 687.6 537.6 687.2 539.1 686.4 540.6 685.6 542.1 684.9 543.6 684.6 545.1 683.7 546.6 683.2 548.1 682.6 549.6 681.5 551.1 680.5 552.6 680 554.1 679.1 555.6 678.2 557.1 677 558.6 676.3 560.1 675.9 561.6 675.1 563.1 674.5 564.6 674.4 566.1 673.5 567.6 673.1 569.1 672.4 570.6 672.3 572.1 671.7 573.6 671.1 575.1 670.6 576.6 670 578.1 669.6 579.6 669.1 581.1 668.4 582.6 668.3 584.1 667.8 585.6 666.8 587.1 666.2 588.6 665.9 590.1 665.1 591.6 664.3 593.1 664 594.6 663.6 596.1 662.6 597.6 662.1 599.1 661.4 600.6 660.8 602.1 660.2 603.6 659.8 605.1 659.1 606.6 658.5 608.1 657.7 609.6 656.9 611.1 655.9 612.6 654.9 614.1 653.9 615.6 652.9 617.1 651.5 618.6 650.6 620.1 649.9 621.6 648.8 623.1 647.8 624.6 647.2 626.1 646 627.6 645.5 629.1 644.3 630.6 643.8 632.1 642.6 633.6 642.1 635.1 641 636.6 640.5 638.1 639.4 639.6 638.9 641.1 638 642.6 637.6 644.1 636.8 645.6 635.9 647.1 634.8 648.6 634.1 650.1 633.1 651.6 632.1 653.1 631.6 654.6 630.6 656.1 630 657.6 629 659.1 627.7 660.6 627.4 662.1 626.3 663.6 625.8 665.1 624.5 666.6 623.8" stroke="#2a6ce0" stroke-width="1.0" fill="none" stroke-opacity="1.0" stroke-linejoin="round"/>
<path d="M405.6 766.7 407.1 765.2 408.6 764.2 410.1 762.5 411.6 760.9 413.1 759.7 414.6 757.6 416.1 756 417.6 754.2 419.1 752.8 420.6 751.4 422.1 750.2 423.6 748.9 425.1 748.3 426.6 747.2 428.1 745.8 429.6 744.8 431.1 744 432.6 743.4 434.1 742.6 435.6 741.8 437.1 740.9 438.6 739.8 440.1 739.2 441.6 738.3 443.1 737.6 444.6 736.6 446.1 735.4 447.6 734.9 449.1 733.4 450.6 732.7 452.1 731.7 453.6 731.1 455.1 729.7 456.6 728.9 458.1 728.1 459.6 726.9 461.1 726 462.6 724.7 464.1 723.7 465.6 722.6 467.1 721.6 468.6 720.5 470.1 719.3 471.6 718.9 473.1 717.9 474.6 717 476.1 716 477.6 715 479.1 714.1 480.6 713.7 482.1 712.8 483.6 711.7 485.1 711 486.6 710.2 488.1 708.6 489.6 707.8 491.1 706.8 492.6 705.8 494.1 704.9 495.6 703.8 497.1 702.7 498.6 702.3 500.1 701.4 501.6 700.9 503.1 699.9 504.6 699.4 506.1 698.8 507.6 697.9 509.1 697.5 510.6 696.7 512.1 696.2 513.6 695.5 515.1 695.2 516.6 694.4 518.1 693.6 519.6 693.1 521.1 692.4 522.6 691.6 524.1 691.3 525.6 690.6 527.1 689.4 528.6 688.7 530.1 687.5 531.6 686.2 533.1 685.7 534.6 684.4 536.1 683.9 537.6 683.1 539.1 682.6 540.6 681.9 542.1 681.7 543.6 681.1 545.1 680.4 546.6 680.3 548.1 679.4 549.6 678.1 551.1 677.6 552.6 676.3 554.1 675.6 555.6 674.3 557.1 673 558.6 672.3 560.1 671.3 561.6 670.8 563.1 669.9 564.6 669.1 566.1 668.4 567.6 667.7 569.1 667.1 570.6 666.4 572.1 665.4 573.6 664.5 575.1 663.7 576.6 663.3 578.1 662.3 579.6 661.9 581.1 660.9 582.6 660.5 584.1 659.2 585.6 658.5 587.1 657 588.6 655.9 590.1 654.9 591.6 653.7 593.1 652.7 594.6 651.6 596.1 650.5 597.6 649.3 599.1 648.7 600.6 647.7 602.1 647 603.6 645.9 605.1 645.3 606.6 644.1 608.1 643.1 609.6 642.7 611.1 641.9 612.6 640.9 614.1 640.3 615.6 639.5 617.1 638.7 618.6 638.1 620.1 637.3 621.6 636.6 623.1 635.8 624.6 634.6 626.1 633.8 627.6 633.2 629.1 632.3 630.6 631.5 632.1 630.3 633.6 629.4 635.1 628.5 636.6 627.7 638.1 626.8 639.6 626.2 641.1 625.1 642.6 624.5 644.1 623.2 645.6 622.5 647.1 621.8 648.6 620.9 650.1 620.3 651.6 619.9 653.1 618.8 654.6 617.9 656.1 617.4 657.6 616.6 659.1 616 660.6 614.8 662.1 614.5 663.6 613.6 665.1 612.7 666.6 612 668.1 611.1 669.6 610.8" stroke="#34a058" stroke-width="1.0" fill="none" stroke-opacity="1.0" stroke-linejoin="round"/>
<path d="M405.6 759.6 407.1 758 408.6 756.3 410.1 754.9 411.6 752.8 413.1 751.6 414.6 749.5 416.1 747.7 417.6 745.8 419.1 743.5 420.6 742.2 422.1 741.1 423.6 739.9 425.1 739.3 426.6 738.1 428.1 737.3 429.6 736 431.1 735.5 432.6 734.5 434.1 733.9 435.6 733.3 437.1 732.7 438.6 732.4 440.1 731.6 441.6 731 443.1 730.7 444.6 730.1 446.1 729.3 447.6 728.6 449.1 728.3 450.6 727.6 452.1 726.9 453.6 726.3 455.1 725.7 456.6 725.2 458.1 724.4 459.6 723.6 461.1 723.2 462.6 722.4 464.1 721.6 465.6 721.1 467.1 720.7 468.6 720.1 470.1 719 471.6 718.8 473.1 717.5 474.6 716.9 476.1 715.9 477.6 714.6 479.1 713.8 480.6 712.8 482.1 711.7 483.6 711.1 485.1 710 486.6 709.2 488.1 707.7 489.6 706.8 491.1 706.2 492.6 704.8 494.1 703.8 495.6 702.8 497.1 702.1 498.6 700.9 500.1 700.2 501.6 699.5 503.1 699.4 504.6 698.2 506.1 697.6 507.6 697.1 509.1 696.6 510.6 696.1 512.1 695.6 513.6 694.6 515.1 694.1 516.6 693.2 518.1 692.7 519.6 691.8 521.1 691.5 522.6 690.8 524.1 690.2 525.6 689.6 527.1 689 528.6 688.3 530.1 687.5 531.6 686.4 533.1 685.8 534.6 685.3 536.1 684.2 537.6 683.6 539.1 682.9 540.6 682 542.1 681.4 543.6 680.8 545.1 680.2 546.6 679.3 548.1 678.4 549.6 677.2 551.1 676.6 552.6 675.5 554.1 674.4 555.6 673.3 557.1 672.4 558.6 671.1 560.1 670.2 561.6 669.2 563.1 668.9 564.6 667.7 566.1 667 567.6 666.2 569.1 665.1 570.6 664.6 572.1 663.7 573.6 662.5 575.1 661.4 576.6 660.9 578.1 659.9 579.6 658.7 581.1 658.2 582.6 657.3 584.1 656.6 585.6 655.5 587.1 654.6 588.6 653.5 590.1 652.7 591.6 652.2 593.1 651.3 594.6 650.2 596.1 649.5 597.6 648.3 599.1 647.1 600.6 646.3 602.1 645.2 603.6 644.6 605.1 643.2 606.6 642.3 608.1 641.4 609.6 640.8 611.1 639.5 612.6 638.6 614.1 638 615.6 637 617.1 636.3 618.6 635.2 620.1 634.2 621.6 633.7 623.1 632.6 624.6 631.7 626.1 631 627.6 629.9 629.1 628.9 630.6 628.1 632.1 627.2 633.6 626.7 635.1 626 636.6 624.9 638.1 624 639.6 623.4 641.1 622.5 642.6 622.1 644.1 621.2 645.6 620.6 647.1 619.4 648.6 618.6 650.1 617.7 651.6 616.4 653.1 615.8 654.6 614.4 656.1 613.8 657.6 612.8 659.1 611.7 660.6 610.4 662.1 609.5 663.6 608.6 665.1 607.2 666.6 606.4 668.1 605.1 669.6 604" stroke="#a570ec" stroke-width="1.0" fill="none" stroke-opacity="1.0" stroke-linejoin="round"/>
<path d="M396.5 449.3V470.6M398.5 447.8V470.1M401.5 434.7V463.9M404.5 440.8V461M408.5 442.6V465M411.5 449.4V476.8M414.5 450.1V475.4M417.5 454.7V476.3M420.5 464.7V491.6M423.5 458.1V484.3M425.5 459.5V482.6M429.5 442.9V468.7M432.5 439.5V457.9M434.5 436.8V457.4M437.5 438.4V456.6M441.5 432.6V459M444.5 435.9V463.5M446.5 429.4V460.5M450.5 436.5V458.2M453.5 436.4V459.8M456.5 424.5V455.3M459.5 418V442.6M462.5 421.8V451.4M465.5 422.1V440.8M469.5 413.9V445M471.5 420.4V450.9M474.5 423V442.7M477.5 417.3V440.3M480.5 408.2V434.5M483.5 405.9V434.3M485.5 407.9V426.8M488.5 400V422.1M491.5 398.8V423.6M494.5 402.8V421.8M496.5 383.6V410M499.5 383.1V411.6M502.5 381.6V408M505.5 387V411.6M508.5 384.7V409.6M511.5 392.6V411.3M514.5 388.8V407M516.5 386.8V409M520.5 389.6V411M523.5 390.7V414.6M525.5 392.8V420.5M528.5 391.6V419.3M531.5 380.8V404.5M535.5 380.7V409.3M538.5 382V405.4M541.5 388V409.7M543.5 391.3V418.2M546.5 393.7V416.3M549.5 398.9V424.8M552.5 410.1V434.8M556.5 414.5V435.5M559.5 417.1V437.9M562.5 409.8V434.3M565.5 410.2V430.7M568.5 411.3V431.3M571.5 398.5V420.7M574.5 395V415.1M577.5 380.4V410.5M580.5 364.8V385.3M583.5 351.9V374.7M586.5 357.6V375.8M589.5 375.4V395.7M593.5 374.2V403.5M595.5 381V399.8M598.5 380.5V407.6M601.5 379V403.5M603.5 377.3V405.3M607.5 384.8V410M610.5 390.7V415.6M613.5 391.9V412.3M616.5 396.9V427.2M618.5 402.9V426M621.5 398.8V428.6M625.5 411.2V438.5M627.5 422.5V452.5M630.5 424.3V455.3M633.5 431V462.1M637.5 428.6V450.3M639.5 426.9V453M642.5 426V450.1M645.5 432.4V460M648.5 443.5V462.6M651.5 442.6V463.2M654.5 440.3V464.7M657.5 439.9V459.7M660.5 434.2V462.3M663.5 424.6V449M666.5 419.8V443.8M669.5 412.5V442.8" stroke="#4a4a4a" stroke-width="1.0" fill="none" stroke-opacity="0.78" stroke-linejoin="round"/>
<path d="M396.5 449.3V476.9M398.5 442.2V473.1M401.5 444.8V475.2M404.5 453.8V474.1M407.5 461.4V481.9M410.5 461V486.9M413.5 465.5V488.1M415.5 464.2V496.2M419.5 473.3V500.6M422.5 483.1V500.6M425.5 478.5V496.9M428.5 470.7V495.9M431.5 472.3V492.7M434.5 459V484.1M438.5 456V478.9M441.5 446.4V468.7M443.5 457.2V487.2M446.5 453.3V475.2M450.5 456.3V478.5M453.5 445.4V470.4M456.5 449.7V471M459.5 446.4V471.4M462.5 435.4V464.9M465.5 428.5V456.4M467.5 437V465.6M470.5 438.8V461.9M473.5 442.9V473.1M475.5 444.4V464.4M478.5 450.4V475.8M481.5 452.3V470.7M484.5 455.7V483.9M487.5 454.5V480.7M490.5 447V471.9M493.5 448V468.6M496.5 442V470.6M500.5 435.3V463.3M502.5 433.2V456.6M505.5 413.4V440.7M508.5 440.5V463.7M511.5 429.7V452.6M515.5 436.9V457.3M517.5 426.6V449.1M521.5 419V441.4M524.5 405.2V436.9M527.5 391V418.7M531.5 388.8V410.7M534.5 394V422.9M537.5 388.8V413.4M540.5 386.3V416.8M543.5 396.9V422.4M546.5 391.7V419.4M549.5 397.5V426M552.5 390.5V411.2M555.5 411.4V441.3M558.5 417.3V436.6M562.5 419.1V442.8M565.5 423.9V452.4M567.5 418.3V449.3M570.5 413.1V444.3M573.5 412.3V433.1M576.5 411.4V434.6M578.5 409.2V435.2M582.5 400V430M585.5 395.8V422.6M588.5 410.4V429.5M591.5 404.9V432.5M595.5 415.4V446.8M598.5 412.8V444.1M601.5 409.1V433.4M604.5 404.7V431.3M607.5 412.8V432M611.5 413.1V438.6M614.5 427.8V452.4M616.5 415.3V445.8M619.5 422.8V448M623.5 414.4V446.2M625.5 414V435.8M628.5 415.2V435.5M632.5 420.4V439.5M635.5 420.7V449.9M639.5 421.1V441.6M642.5 427V445.1M645.5 418.1V437.3M648.5 400.2V427.3M651.5 412.5V444.3M654.5 419.6V441.7M657.5 410.5V438.9M660.5 410.8V432.3M662.5 405.3V424.5M665.5 409.1V433.8M668.5 404.9V428.3" stroke="#f04040" stroke-width="1.0" fill="none" stroke-opacity="0.78" stroke-linejoin="round"/>
<path d="M396.5 401.6V426.7M398.5 403.5V430.3M401.5 409.9V433.8M404.5 421.5V446.9M407.5 404.3V434.4M410.5 419.9V445.4M413.5 428V455M415.5 428.2V459.6M419.5 436.3V458M422.5 438.2V468.4M424.5 448.4V475.4M428.5 457.1V482.7M431.5 454.9V480.3M433.5 457V488M437.5 458.2V487.9M440.5 453V484.3M442.5 461.7V486.5M445.5 466.2V486M448.5 467.1V492.8M450.5 456.1V477.1M453.5 452.1V480.3M456.5 449.8V476.9M459.5 435.1V460.3M462.5 447.1V473.4M464.5 454.2V475.3M467.5 463.2V493.8M470.5 471.5V490.5M473.5 464V483.8M477.5 462.9V488.9M480.5 466.9V487.6M482.5 471.3V495.3M485.5 466.3V493.8M489.5 465.5V484.8M491.5 470.9V492.4M494.5 460.4V484.7M497.5 461.3V492.2M500.5 455.6V485.6M503.5 436.2V465.9M507.5 434.5V465.4M510.5 436.8V457.8M513.5 433.1V451.9M516.5 427.3V456.3M519.5 437.3V461.2M522.5 431.4V459.5M525.5 435.9V458M528.5 428V456.5M531.5 423.1V449.3M534.5 418.2V449.7M536.5 427.7V448.3M539.5 425.6V445.3M543.5 423.2V444.7M546.5 422.9V449.1M549.5 422.4V453.5M552.5 435.8V459.3M555.5 452.8V475M558.5 448.8V473.2M561.5 445.9V477.9M564.5 442.4V473.5M567.5 437.5V467.8M570.5 430.9V458.7M573.5 419.4V451.3M576.5 423V445.2M579.5 428.9V460M582.5 433V458.8M585.5 430.3V456.8M588.5 428.4V450.1M591.5 410.5V441.1M594.5 408V429.9M597.5 403.1V431.9M600.5 404.1V429.8M603.5 394.4V412.5M605.5 382.6V408.2M609.5 386V412.2M611.5 382.8V413.4M615.5 390.9V421M618.5 392.5V412M621.5 380.4V410.8M624.5 371.3V402.3M628.5 358.8V390.5M631.5 357.3V385.6M634.5 356.2V387.2M637.5 359.7V381.4M640.5 383.9V403.4M644.5 377.7V407.1M647.5 381V403.3M650.5 379.8V400.5M653.5 380V410.1M656.5 389.8V413.4M660.5 384.8V410.3M663.5 385.5V406M667.5 385.6V407.3M669.5 397.9V420.3" stroke="#2a6ce0" stroke-width="1.0" fill="none" stroke-opacity="0.78" stroke-linejoin="round"/>
<path d="M396.5 410.2V438.2M398.5 403.5V433.3M402.5 418.5V441.9M405.5 414V445.1M408.5 419.8V447.4M411.5 411.5V442.3M414.5 402.4V425.2M417.5 397.9V425.8M420.5 386.6V414M423.5 408.2V429.2M426.5 404.4V436.3M429.5 418.5V436.9M432.5 417.9V444.5M435.5 414.5V445.9M438.5 430.7V452.4M441.5 442.4V460.5M444.5 447.7V467.5M447.5 439.6V457.8M450.5 430.8V453.4M453.5 430.2V457.9M456.5 435.9V454.5M458.5 429.6V456.7M461.5 430.1V457.9M464.5 426.1V450.7M467.5 420.3V442.3M470.5 426.9V451.1M473.5 436.7V465.2M476.5 450.6V478.7M479.5 455.8V481.9M482.5 442.3V471.8M485.5 448.1V466.5M488.5 427.4V458M491.5 440.7V461.9M495.5 441.6V466.8M497.5 441.8V466.6M500.5 438.1V462.3M503.5 436V455.9M506.5 442.8V471.7M510.5 444.2V468.4M512.5 447.9V472.4M515.5 449.4V481.4M518.5 456.6V475.3M521.5 446.9V477.3M524.5 440.3V471.4M527.5 439.4V467.4M530.5 439.8V470.6M533.5 439V460.6M537.5 440.7V460.6M540.5 445.3V467.6M543.5 440V467.7M546.5 438.3V461.5M549.5 438.4V465.4M552.5 431V458.4M555.5 430.1V457.4M557.5 434.9V462.7M560.5 436.8V468.1M563.5 442.7V461.9M566.5 431.4V461M569.5 437.7V464.5M572.5 440.9V459.7M575.5 446.1V465.2M578.5 435.9V457.3M581.5 442.8V461.4M584.5 436.4V466.6M587.5 436.4V465.7M590.5 439.7V466.2M594.5 439.4V466.2M596.5 444.1V470.8M600.5 453.3V480.6M603.5 453.8V477.9M606.5 452.9V477.7M609.5 448.8V467.3M612.5 433.2V462M614.5 438.6V458.3M617.5 428.7V450.2M621.5 430.9V452.1M624.5 425.9V444M627.5 418.5V436.7M630.5 408.3V427.3M632.5 411.5V432.3M635.5 399.3V425.2M639.5 396.6V419.6M642.5 413.9V436.4M645.5 405.4V433.5M648.5 408.4V434.9M650.5 408.3V439.5M653.5 410.5V433.5M656.5 410.6V432.9M659.5 412.8V435.2M661.5 417.1V436.8M664.5 417.5V443.5M667.5 410V441.5M670.5 411.9V436.1" stroke="#34a058" stroke-width="1.0" fill="none" stroke-opacity="0.78" stroke-linejoin="round"/>
<path d="M396.5 429V450.9M399.5 435.3V456.9M402.5 431.9V458.3M405.5 424.1V448.9M407.5 427.2V452.8M411.5 428.3V447.3M414.5 426.6V445.6M416.5 428V455.2M420.5 416.2V445M423.5 419.7V445.1M426.5 422.1V447.9M429.5 417.7V439.5M431.5 422.6V444.1M434.5 424.8V451.2M437.5 439.3V464.2M441.5 436.2V455.3M444.5 427.2V456.4M447.5 432.3V463.8M450.5 435.9V457M453.5 436.8V465.1M456.5 441.3V462.3M459.5 438.5V459.1M461.5 440.2V465.2M464.5 444.5V466.8M467.5 441.2V468.7M470.5 452.4V474.9M473.5 450V479.4M476.5 449.2V478.3M478.5 460.4V486.3M482.5 459.2V490.2M484.5 467.9V498.4M488.5 461.1V482.5M490.5 460.4V484.1M494.5 447.6V474.8M496.5 440.3V470.8M499.5 436.2V465.3M502.5 435.8V459.1M505.5 435.3V464.6M508.5 431.4V456.1M511.5 430V450.5M514.5 438.1V456.6M517.5 429.8V461M520.5 431.3V453.5M522.5 434.6V461.5M525.5 434.8V465M528.5 431V456M531.5 436.1V463.3M534.5 431.6V454.4M537.5 418.2V447.3M540.5 415.5V446.7M543.5 421.7V443.3M546.5 417.6V443M549.5 422.3V440.5M552.5 418.7V444.5M556.5 427.1V449.8M558.5 411.1V441.5M561.5 413.5V431.7M565.5 413.6V440.6M567.5 416.6V443.5M570.5 425.4V449.5M573.5 420.4V446.6M577.5 400.9V431.8M580.5 410.6V436M584.5 407.9V428.8M586.5 396.4V425.8M589.5 394.4V413.6M592.5 399.2V420M595.5 399.3V427M598.5 398.7V419.4M601.5 397.2V421.2M604.5 397.9V420.5M607.5 398.2V423.7M610.5 400.1V428.8M613.5 404.1V431.3M617.5 404.6V426.6M620.5 380.4V411.1M623.5 390.8V415.7M625.5 389.9V421.3M629.5 392.3V410.7M631.5 380.1V411.8M634.5 381.4V411.1M637.5 381.7V411.9M640.5 376.7V396.7M644.5 376.5V398.8M647.5 370.6V395.9M650.5 373.2V392.3M653.5 373.5V396.4M655.5 385.5V409.1M658.5 397.9V420.8M662.5 398.3V416.4M664.5 401V424.9M668.5 398.8V424.4M670.5 402.3V423.9" stroke="#a570ec" stroke-width="1.0" fill="none" stroke-opacity="0.78" stroke-linejoin="round"/>
<path d="M396 460 398.9 459 401.7 449.3 404.9 450.9 408.3 453.8 411.6 463.1 414.5 462.7 417 465.5 420 478.2 423.4 471.2 426 471.1 429.2 455.8 432.3 448.7 434.8 447.1 437.9 447.5 441.1 445.8 444.1 449.7 446.8 445 450.2 447.3 453.5 448.1 456.5 439.9 459.9 430.3 462.6 436.6 465.8 431.4 469 429.5 471.5 435.6 474.8 432.8 477.8 428.8 480.5 421.4 483.2 420.1 485.8 417.4 488.7 411 491.2 411.2 494.3 412.3 496.9 396.8 499.5 397.4 502.5 394.8 505.3 399.3 508.4 397.2 511.6 401.9 514.2 397.9 516.8 397.9 520.1 400.3 523 402.6 525.8 406.6 528.5 405.4 532 392.6 535 395 538.5 393.7 541.1 398.9 543.6 404.8 546.9 405 549.8 411.9 552.8 422.4 556.2 425 559.2 427.5 562.5 422.1 565 420.5 568.1 421.3 571.2 409.6 574.1 405 577.2 395.4 580.6 375.1 583.7 362.9 586.3 366.7 589.6 385.6 593 388.8 595.6 390.4 598.5 394 601 391.3 603.8 391.3 607.1 397.4 610.4 403.2 613.4 402.1 616.1 412 618.9 414.4 621.9 413.7 625 424.8 627.7 437.5 631 439.8 633.7 446.6 637.1 439.5 639.8 440 642.8 438 645.5 446.2 648.5 453 651.1 452.9 654.6 452.5 657.4 449.8 660.9 448.2 663.5 436.8 666.4 431.8 669.3 427.7" stroke="#4a4a4a" stroke-width="0.7" fill="none" stroke-opacity="0.8" stroke-linejoin="round"/>
<path d="M396 463.1 398.8 457.7 401.7 460 404.9 463.9 407.4 471.7 410.6 473.9 413.3 476.8 416 480.2 419.1 487.3 422.1 498.4 425.5 487.7 428.6 483.3 431.7 482.5 434.9 471.5 438 467.4 441.2 457.5 443.9 472.2 447 464.2 450.1 467.4 453.4 457.9 456.4 460.4 459.1 458.9 462.6 450.2 465.1 442.4 467.7 451.3 470.3 450.4 473 458 475.7 454.4 478.9 463.1 481.4 461.5 484.7 469.8 487.6 467.6 490.8 459.4 493.8 458.3 496.8 456.3 500.1 449.3 502.7 444.9 505.3 427.1 508.5 452.1 511.8 441.1 515.2 447.1 517.9 437.9 521.3 430.2 524.6 421.1 528 404.8 531.4 399.7 534.7 408.5 537.6 401.1 540.6 401.5 543.6 409.7 546.4 405.5 549.8 411.7 552.8 400.8 556 426.3 558.7 427 562.1 430.9 565.1 438.2 567.6 433.8 570.5 428.7 573.5 422.7 576.3 423 579 422.2 582.4 415 585.5 409.2 588.5 419.9 591.9 418.7 595.2 431.1 598.7 428.5 601.7 421.3 604.7 418 607.8 422.4 611.2 425.8 614.1 440.1 617 430.5 620 435.4 623.2 430.3 626 424.9 628.9 425.4 632.3 430 635.6 435.3 639 431.4 642.5 436.1 645.5 427.7 648.6 413.7 651.2 428.4 654 430.7 657.5 424.7 660.2 421.6 662.9 414.9 665.9 421.5 668.7 416.6" stroke="#f04040" stroke-width="0.7" fill="none" stroke-opacity="0.8" stroke-linejoin="round"/>
<path d="M396 414.1 398.6 416.9 401.9 421.8 404.4 434.2 407.9 419.4 410.4 432.6 413.2 441.5 415.8 443.9 419.2 447.1 422.2 453.3 425 461.9 428.1 469.9 431.4 467.6 433.9 472.5 437.2 473.1 440.1 468.7 442.6 474.1 445.2 476.1 448.2 480 451 466.6 454 466.2 456.7 463.3 459.6 447.7 462.3 460.2 465 464.8 467.6 478.5 470.9 481 473.7 473.9 477.1 475.9 480.1 477.3 482.7 483.3 485.6 480 489.1 475.1 492 481.6 494.7 472.5 497.6 476.8 500.5 470.6 503.6 451.1 507 449.9 510.4 447.3 513.3 442.5 516.2 441.8 519.1 449.2 522.6 445.4 525.2 446.9 528.7 442.3 531.3 436.2 534.3 433.9 536.8 438 539.9 435.4 543.3 434 546.4 436 549.4 438 552.2 447.5 555.3 463.9 558.1 461 561.6 461.9 564.2 458 567.6 452.7 570.5 444.8 573.6 435.3 576.7 434.1 579.9 444.5 582.5 445.9 585.3 443.6 588.5 439.3 591.5 425.8 594.8 418.9 597.4 417.5 600.5 416.9 603.4 403.4 606 395.4 609.3 399.1 612 398.1 615.3 406 618.7 402.3 622 395.6 624.9 386.8 628.2 374.6 631.5 371.5 634.4 371.7 637.7 370.5 641 393.6 644.3 392.4 647.3 392.2 650.6 390.2 653.4 395 656.9 401.6 660.4 397.6 663.8 395.7 667.3 396.4 669.9 409.1" stroke="#2a6ce0" stroke-width="0.7" fill="none" stroke-opacity="0.8" stroke-linejoin="round"/>
<path d="M396 424.2 399 418.4 402.4 430.2 405.6 429.6 408.5 433.6 411.5 426.9 414.4 413.8 417.1 411.9 420.5 400.3 424 418.7 426.9 420.3 429.6 427.7 432.6 431.2 435.7 430.2 438.7 441.5 441.4 451.5 444.6 457.6 447.7 448.7 450.6 442.1 453.3 444.1 456 445.2 458.8 443.2 461.4 444 464 438.4 467.1 431.3 470.3 439 473.7 451 476.8 464.6 479.8 468.9 482.5 457 485.6 457.3 488.2 442.7 491.6 451.3 495.1 454.2 497.9 454.2 500.8 450.2 503.6 446 506.9 457.2 510.1 456.3 512.9 460.1 515.8 465.4 518.5 465.9 521.2 462.1 524.5 455.8 527.6 453.4 531 455.2 533.7 449.8 537 450.7 540.4 456.5 543.6 453.8 546.5 449.9 549.5 451.9 552.1 444.7 555.1 443.7 557.8 448.8 560.9 452.4 563.8 452.3 566.6 446.2 569.3 451.1 572 450.3 575.2 455.6 578.6 446.6 581.8 452.1 584.4 451.5 587.6 451.1 590.8 452.9 594.1 452.8 596.9 457.5 600.2 466.9 603.2 465.8 606.5 465.3 609 458 612.1 447.6 614.7 448.4 617.9 439.4 621 441.5 624.3 434.9 627.1 427.6 630.1 417.8 632.8 421.9 635.9 412.2 639.3 408.1 642.7 425.2 645.5 419.4 648.1 421.6 650.7 423.9 653.5 422 656.3 421.8 659 424 661.9 427 664.7 430.5 667.5 425.8 670.9 424" stroke="#34a058" stroke-width="0.7" fill="none" stroke-opacity="0.8" stroke-linejoin="round"/>
<path d="M396 439.9 399.5 446.1 402 445.1 405.1 436.5 407.9 440 411.3 437.8 414.1 436.1 417 441.6 420.4 430.6 423.2 432.4 426.5 435 429.1 428.6 432 433.3 434.7 438 437.8 451.8 441.2 445.7 444.6 441.8 447.5 448.1 450.7 446.4 453.9 450.9 456.4 451.8 459 448.8 461.5 452.7 464.7 455.6 467.3 455 470.5 463.6 473.6 464.7 476.1 463.7 478.7 473.4 482.1 474.7 484.7 483.1 488.1 471.8 490.8 472.2 494.1 461.2 496.8 455.6 499.8 450.8 503 447.4 505.9 450 508.7 443.8 511.8 440.3 514.4 447.4 517.2 445.4 520.1 442.4 522.8 448 525.9 449.9 528.8 443.5 531.3 449.7 534.5 443 537.7 432.8 540.7 431.1 543.3 432.5 546.6 430.3 549.5 431.4 552.8 431.6 556.1 438.4 558.8 426.3 561.9 422.6 565.1 427.1 567.7 430.1 570.8 437.5 574 433.5 577.2 416.3 580.6 423.3 584.1 418.3 586.8 411.1 589.8 404 592.9 409.6 595.4 413.2 598.3 409.1 601.3 409.2 604.3 409.2 607.4 410.9 610.5 414.5 613.7 417.7 617.2 415.6 620.3 395.8 623.2 403.3 626 405.6 629.1 401.5 631.7 396 634.8 396.3 638 396.8 641 386.7 644.4 387.7 647.8 383.2 650.7 382.7 653.2 384.9 655.7 397.3 658.9 409.4 662.3 407.3 665 413 668.3 411.6 670.8 413.1" stroke="#a570ec" stroke-width="0.7" fill="none" stroke-opacity="0.8" stroke-linejoin="round"/>
<path d="M82.2 19.2H110.7" stroke="#666" stroke-width="1.1"/>
<text x="113.2" y="23.5" font-size="12.2"><tspan font-style="italic">T</tspan>=13mm</text>
<path d="M82.2 35.2H110.7" stroke="#f47a7a" stroke-width="1.3"/>
<text x="113.2" y="39.5" font-size="12.2"><tspan font-style="italic">T</tspan>=15mm</text>
<path d="M82.2 50.5H110.7" stroke="#4a8ae8" stroke-width="1.1"/>
<text x="113.2" y="54.8" font-size="12.2"><tspan font-style="italic">T</tspan>=17mm</text>
<path d="M82.2 65.7H110.7" stroke="#3fa865" stroke-width="1.4"/>
<text x="113.2" y="70.0" font-size="12.2"><tspan font-style="italic">T</tspan>=19mm</text>
<path d="M82.2 81.0H110.7" stroke="#b184ee" stroke-width="1.3"/>
<text x="113.2" y="85.3" font-size="12.2"><tspan font-style="italic">T</tspan>=21mm</text>
<path d="M438.8 20.9H466.5" stroke="#333" stroke-width="1.6"/>
<text x="469.4" y="25.2" font-size="12.1"><tspan font-style="italic">T</tspan>=13mm</text>
<path d="M438.8 36.3H466.5" stroke="#f06060" stroke-width="1.1"/>
<text x="469.4" y="40.6" font-size="12.1"><tspan font-style="italic">T</tspan>=15mm</text>
<path d="M438.8 51.9H466.5" stroke="#2a6ad8" stroke-width="1.8"/>
<text x="469.4" y="56.2" font-size="12.1"><tspan font-style="italic">T</tspan>=17mm</text>
<path d="M438.8 67.2H466.5" stroke="#3fa865" stroke-width="1.4"/>
<text x="469.4" y="71.5" font-size="12.1"><tspan font-style="italic">T</tspan>=19mm</text>
<path d="M438.8 82.1H466.5" stroke="#a874ea" stroke-width="1.1"/>
<text x="469.4" y="86.4" font-size="12.1"><tspan font-style="italic">T</tspan>=21mm</text>
<path d="M89.9 319.2H118.0" stroke="#aaa" stroke-width="1.8"/>
<text x="120.3" y="323.5" font-size="11.8"><tspan font-style="italic">T</tspan>=13mm</text>
<path d="M89.9 333.9H118.0" stroke="#f59a9a" stroke-width="1.8"/>
<text x="120.3" y="338.2" font-size="11.8"><tspan font-style="italic">T</tspan>=15mm</text>
<path d="M89.9 348.5H118.0" stroke="#a8c4ec" stroke-width="1.4"/>
<text x="120.3" y="352.8" font-size="11.8"><tspan font-style="italic">T</tspan>=17mm</text>
<path d="M89.9 363.4H118.0" stroke="#3fa870" stroke-width="1.4"/>
<text x="120.3" y="367.7" font-size="11.8"><tspan font-style="italic">T</tspan>=19mm</text>
<path d="M89.9 378.3H118.0" stroke="#b890e8" stroke-width="1.4"/>
<text x="120.3" y="382.6" font-size="11.8"><tspan font-style="italic">T</tspan>=21mm</text>
<path d="M421.4 309.7H449.4" stroke="#b0b0b0" stroke-width="1.8"/>
<text x="452.2" y="314.0" font-size="12.6"><tspan font-style="italic">T</tspan>=13mm</text>
<path d="M421.4 325.3H449.4" stroke="#f06060" stroke-width="1.1"/>
<text x="452.2" y="329.6" font-size="12.6"><tspan font-style="italic">T</tspan>=15mm</text>
<path d="M421.4 341.1H449.4" stroke="#2a6ad8" stroke-width="1.9"/>
<text x="452.2" y="345.4" font-size="12.6"><tspan font-style="italic">T</tspan>=17mm</text>
<path d="M421.4 356.4H449.4" stroke="#3fa870" stroke-width="1.5"/>
<text x="452.2" y="360.7" font-size="12.6"><tspan font-style="italic">T</tspan>=19mm</text>
<path d="M421.4 372.5H449.4" stroke="#c8a8f0" stroke-width="1.1"/>
<text x="452.2" y="376.8" font-size="12.6"><tspan font-style="italic">T</tspan>=21mm</text>
<path d="M219.9 706.2H248.7" stroke="#444" stroke-width="1.0"/>
<text x="251.6" y="710.5" font-size="12.2"><tspan font-style="italic">T</tspan>=13mm</text>
<path d="M219.9 721.6H248.7" stroke="#f47a7a" stroke-width="1.4"/>
<text x="251.6" y="725.9" font-size="12.2"><tspan font-style="italic">T</tspan>=15mm</text>
<path d="M219.9 737.3H248.7" stroke="#7aa8ee" stroke-width="1.4"/>
<text x="251.6" y="741.6" font-size="12.2"><tspan font-style="italic">T</tspan>=17mm</text>
<path d="M219.9 752.4H248.7" stroke="#50b07a" stroke-width="1.4"/>
<text x="251.6" y="756.7" font-size="12.2"><tspan font-style="italic">T</tspan>=19mm</text>
<path d="M219.9 767.7H248.7" stroke="#c49cf0" stroke-width="1.8"/>
<text x="251.6" y="772.0" font-size="12.2"><tspan font-style="italic">T</tspan>=21mm</text>
<path d="M438.5 604.9H465.8" stroke="#666" stroke-width="2.0"/>
<text x="468.7" y="609.2" font-size="11.9"><tspan font-style="italic">T</tspan>=13mm</text>
<path d="M438.5 619.8H465.8" stroke="#f59a9a" stroke-width="2.0"/>
<text x="468.7" y="624.1" font-size="11.9"><tspan font-style="italic">T</tspan>=15mm</text>
<path d="M438.5 634.7H465.8" stroke="#9ab8ee" stroke-width="2.0"/>
<text x="468.7" y="639.0" font-size="11.9"><tspan font-style="italic">T</tspan>=17mm</text>
<path d="M438.5 649.9H465.8" stroke="#a0d8b4" stroke-width="2.0"/>
<text x="468.7" y="654.2" font-size="11.9"><tspan font-style="italic">T</tspan>=19mm</text>
<path d="M438.5 664.6H465.8" stroke="#d8c4f4" stroke-width="1.2"/>
<text x="468.7" y="668.9" font-size="11.9"><tspan font-style="italic">T</tspan>=21mm</text>
</svg>
</body></html>
